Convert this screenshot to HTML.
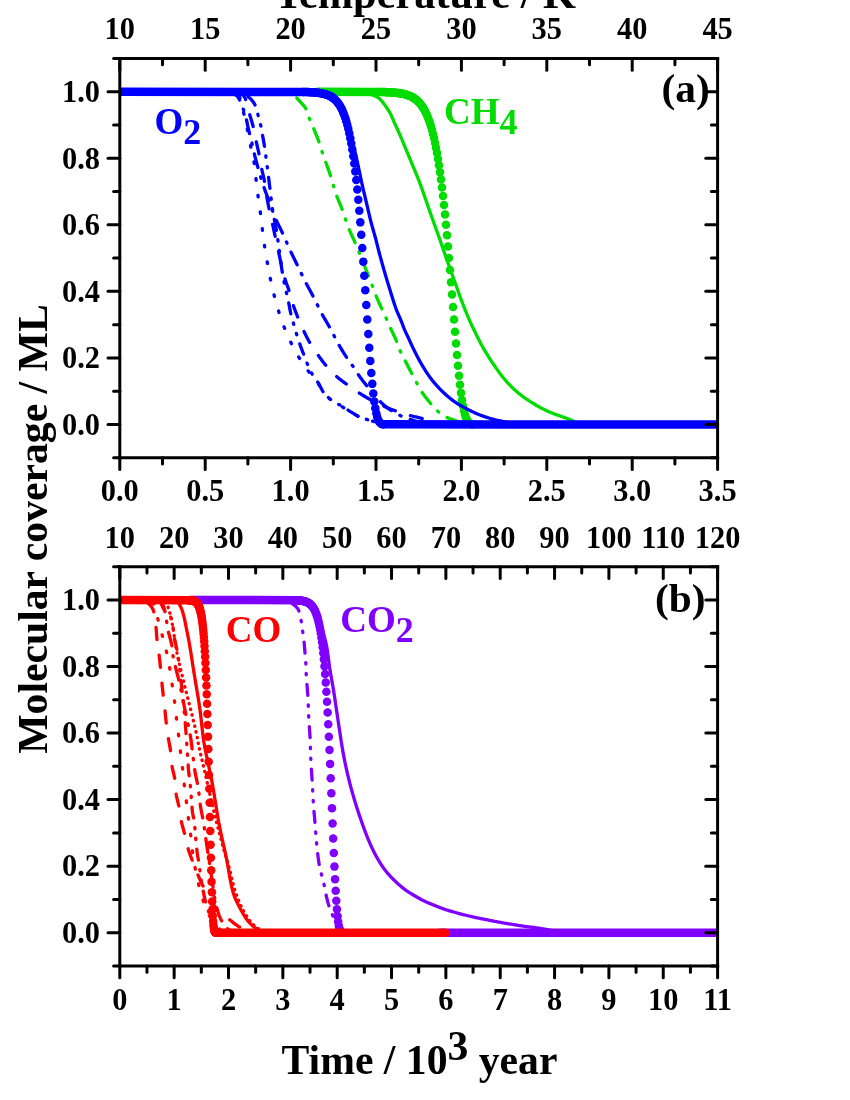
<!DOCTYPE html>
<html><head><meta charset="utf-8"><title>Molecular coverage</title>
<style>
html,body{margin:0;padding:0;background:#fff;}
svg{display:block;font-family:"Liberation Serif",serif;font-weight:bold;}
</style></head><body>
<svg width="850" height="1100" viewBox="0 0 850 1100" style="will-change:transform">
<rect width="850" height="1100" fill="#fff"/>
<defs><clipPath id="ca"><rect x="119.80" y="58.50" width="597.80" height="399.20"/></clipPath><clipPath id="cb"><rect x="119.80" y="566.70" width="597.80" height="399.30"/></clipPath></defs>
<g clip-path="url(#ca)">
<path d="M354.00,91.77 L355.02,91.78 L356.03,91.81 L357.04,91.86 L358.04,91.94 L359.04,92.02 L360.04,92.12 L361.03,92.23 L362.03,92.35 L363.01,92.47 L364.00,92.60 L364.98,92.76 L365.96,92.97 L366.94,93.22 L367.91,93.49 L368.87,93.79 L369.83,94.09 L370.79,94.39 L371.74,94.71 L372.69,95.05 L373.63,95.41 L374.56,95.80 L375.46,96.22 L376.37,96.67 L377.27,97.16 L378.13,97.68 L378.93,98.25 L379.68,98.86 L380.39,99.54 L381.08,100.26 L381.75,101.02 L382.39,101.81 L383.02,102.62 L383.63,103.44 L384.24,104.27 L384.84,105.08 L385.43,105.88 L386.02,106.69 L386.59,107.52 L387.16,108.35 L387.72,109.19 L388.26,110.04 L388.79,110.90 L389.30,111.76 L389.80,112.63 L390.27,113.50 L390.72,114.39 L391.16,115.29 L391.59,116.20 L392.00,117.11 L392.41,118.03 L392.81,118.95 L393.21,119.88 L393.60,120.80 L394.00,121.73 L394.40,122.65 L394.81,123.57 L395.22,124.49 L395.64,125.40 L396.06,126.31 L396.48,127.22 L396.90,128.13 L397.32,129.05 L397.74,129.96 L398.15,130.87 L398.57,131.78 L398.98,132.70 L399.39,133.61 L399.80,134.53 L400.20,135.45 L400.59,136.37 L400.98,137.30 L401.37,138.22 L401.76,139.15 L402.15,140.07 L402.53,141.00 L402.91,141.93 L403.29,142.86 L403.67,143.79 L404.05,144.71 L404.44,145.64 L404.82,146.57 L405.21,147.50 L405.59,148.42 L405.98,149.35 L406.36,150.27 L406.75,151.20 L407.14,152.13 L407.52,153.05 L407.91,153.98 L408.29,154.91 L408.68,155.83 L409.07,156.76 L409.45,157.68 L409.84,158.61 L410.22,159.54 L410.61,160.46 L411.00,161.39 L411.39,162.31 L411.77,163.24 L412.16,164.16 L412.55,165.09 L412.94,166.02 L413.32,166.94 L413.71,167.87 L414.09,168.80 L414.48,169.72 L414.86,170.65 L415.24,171.58 L415.62,172.51 L416.00,173.44 L416.38,174.37 L416.76,175.30 L417.13,176.23 L417.51,177.16 L417.88,178.09 L418.26,179.02 L418.63,179.95 L418.99,180.89 L419.36,181.82 L419.72,182.76 L420.07,183.70 L420.43,184.63 L420.77,185.58 L421.12,186.52 L421.46,187.46 L421.80,188.40 L422.14,189.35 L422.47,190.30 L422.81,191.24 L423.14,192.19 L423.47,193.14 L423.80,194.08 L424.14,195.03 L424.47,195.98 L424.80,196.93 L425.13,197.87 L425.46,198.82 L425.79,199.77 L426.12,200.72 L426.44,201.66 L426.77,202.61 L427.09,203.56 L427.42,204.51 L427.74,205.46 L428.07,206.41 L428.39,207.36 L428.72,208.31 L429.05,209.26 L429.37,210.21 L429.70,211.15 L430.04,212.10 L430.37,213.05 L430.70,213.99 L431.04,214.94 L431.37,215.89 L431.71,216.83 L432.05,217.78 L432.39,218.72 L432.73,219.66 L433.07,220.61 L433.41,221.55 L433.75,222.50 L434.08,223.44 L434.42,224.39 L434.76,225.33 L435.10,226.28 L435.44,227.22 L435.77,228.17 L436.11,229.11 L436.45,230.05 L436.79,231.00 L437.13,231.94 L437.47,232.89 L437.81,233.83 L438.14,234.78 L438.48,235.72 L438.82,236.67 L439.16,237.61 L439.49,238.56 L439.83,239.51 L440.16,240.45 L440.49,241.40 L440.82,242.35 L441.15,243.29 L441.48,244.24 L441.81,245.19 L442.14,246.14 L442.47,247.08 L442.80,248.03 L443.13,248.98 L443.45,249.93 L443.78,250.88 L444.11,251.83 L444.44,252.77 L444.77,253.72 L445.10,254.67 L445.43,255.62 L445.75,256.57 L446.08,257.51 L446.41,258.46 L446.74,259.41 L447.07,260.36 L447.40,261.30 L447.74,262.25 L448.07,263.20 L448.41,264.14 L448.74,265.09 L449.08,266.03 L449.42,266.98 L449.76,267.92 L450.10,268.87 L450.44,269.81 L450.78,270.75 L451.13,271.70 L451.47,272.64 L451.81,273.58 L452.15,274.53 L452.49,275.47 L452.83,276.41 L453.17,277.36 L453.51,278.30 L453.85,279.25 L454.19,280.19 L454.53,281.13 L454.87,282.08 L455.21,283.02 L455.55,283.97 L455.89,284.91 L456.23,285.85 L456.57,286.80 L456.91,287.74 L457.24,288.69 L457.58,289.64 L457.91,290.58 L458.24,291.53 L458.57,292.48 L458.90,293.43 L459.23,294.37 L459.57,295.32 L459.91,296.26 L460.26,297.20 L460.61,298.14 L460.96,299.08 L461.31,300.02 L461.67,300.96 L462.02,301.90 L462.38,302.84 L462.74,303.77 L463.11,304.71 L463.47,305.64 L463.84,306.58 L464.21,307.51 L464.58,308.44 L464.95,309.37 L465.32,310.31 L465.70,311.24 L466.07,312.17 L466.45,313.10 L466.83,314.03 L467.21,314.96 L467.59,315.88 L467.98,316.81 L468.37,317.74 L468.76,318.66 L469.16,319.58 L469.56,320.50 L469.96,321.42 L470.37,322.33 L470.79,323.24 L471.21,324.15 L471.64,325.06 L472.07,325.97 L472.50,326.87 L472.94,327.78 L473.38,328.68 L473.82,329.58 L474.26,330.49 L474.70,331.39 L475.14,332.29 L475.58,333.19 L476.02,334.09 L476.46,334.99 L476.91,335.90 L477.35,336.79 L477.80,337.69 L478.25,338.59 L478.70,339.49 L479.16,340.38 L479.62,341.27 L480.08,342.16 L480.55,343.04 L481.03,343.93 L481.50,344.81 L481.99,345.69 L482.47,346.57 L482.96,347.45 L483.45,348.32 L483.95,349.19 L484.45,350.06 L484.96,350.93 L485.47,351.79 L485.99,352.65 L486.51,353.51 L487.04,354.36 L487.57,355.21 L488.11,356.06 L488.65,356.90 L489.19,357.75 L489.74,358.59 L490.28,359.43 L490.83,360.28 L491.38,361.12 L491.93,361.95 L492.48,362.79 L493.04,363.62 L493.60,364.46 L494.17,365.29 L494.73,366.11 L495.30,366.94 L495.88,367.76 L496.45,368.59 L497.03,369.41 L497.61,370.23 L498.19,371.04 L498.78,371.86 L499.38,372.66 L499.98,373.47 L500.58,374.27 L501.19,375.07 L501.81,375.86 L502.42,376.65 L503.05,377.44 L503.68,378.22 L504.32,378.99 L504.96,379.76 L505.62,380.52 L506.28,381.28 L506.94,382.03 L507.62,382.77 L508.30,383.51 L508.98,384.24 L509.68,384.97 L510.38,385.68 L511.08,386.40 L511.80,387.10 L512.52,387.80 L513.25,388.49 L513.98,389.18 L514.72,389.85 L515.47,390.52 L516.22,391.18 L516.98,391.84 L517.75,392.49 L518.52,393.14 L519.29,393.78 L520.08,394.41 L520.86,395.03 L521.66,395.64 L522.46,396.24 L523.26,396.84 L524.08,397.42 L524.90,398.00 L525.73,398.57 L526.56,399.14 L527.39,399.69 L528.23,400.24 L529.07,400.79 L529.92,401.33 L530.76,401.87 L531.61,402.41 L532.46,402.94 L533.32,403.47 L534.17,404.00 L535.03,404.52 L535.90,405.04 L536.76,405.55 L537.63,406.05 L538.51,406.54 L539.38,407.03 L540.26,407.51 L541.15,407.97 L542.04,408.43 L542.93,408.88 L543.83,409.33 L544.73,409.77 L545.64,410.21 L546.55,410.64 L547.46,411.06 L548.38,411.47 L549.29,411.88 L550.22,412.28 L551.14,412.68 L552.06,413.06 L552.99,413.44 L553.92,413.80 L554.86,414.16 L555.80,414.50 L556.75,414.83 L557.70,415.16 L558.65,415.49 L559.60,415.81 L560.55,416.13 L561.50,416.46 L562.45,416.78 L563.40,417.12 L564.34,417.47 L565.28,417.82 L566.22,418.18 L567.15,418.54 L568.09,418.90 L569.02,419.27 L569.95,419.65 L570.88,420.02 L571.81,420.41 L572.74,420.79 L573.66,421.18 L574.58,421.57 L575.51,421.97 L576.43,422.37 L577.34,422.77 L578.26,423.18 L579.18,423.60 L580.09,424.01 L581.00,424.43" fill="none" stroke="#00dc00" stroke-width="3.3" stroke-linecap="round" stroke-linejoin="round"/>
<path d="M286.00,91.77 L287.00,92.07 L287.98,92.40 L288.94,92.78 L289.87,93.19 L290.78,93.62 L291.67,94.09 L292.53,94.57 L293.36,95.08 L294.16,95.61 L294.94,96.19 L295.69,96.84 L296.42,97.53 L297.12,98.26 L297.82,99.02 L298.50,99.79 L299.17,100.56 L299.84,101.32 L300.51,102.06 L301.20,102.81 L301.89,103.56 L302.58,104.32 L303.26,105.09 L303.91,105.87 L304.53,106.67 L305.10,107.48 L305.62,108.31 L306.08,109.16 L306.48,110.04 L306.85,110.96 L307.18,111.91 L307.49,112.87 L307.79,113.84 L308.09,114.82 L308.40,115.79 L308.72,116.75 L309.07,117.69 L309.44,118.63 L309.82,119.55 L310.21,120.48 L310.60,121.40 L311.00,122.33 L311.40,123.25 L311.80,124.17 L312.20,125.09 L312.59,126.02 L312.98,126.94 L313.36,127.87 L313.74,128.80 L314.13,129.73 L314.52,130.65 L314.91,131.58 L315.29,132.51 L315.68,133.44 L316.06,134.36 L316.44,135.29 L316.82,136.23 L317.19,137.16 L317.56,138.09 L317.92,139.03 L318.27,139.97 L318.61,140.91 L318.95,141.85 L319.27,142.80 L319.59,143.75 L319.89,144.71 L320.18,145.67 L320.47,146.63 L320.76,147.60 L321.05,148.56 L321.34,149.52 L321.64,150.48 L321.95,151.43 L322.26,152.39 L322.58,153.34 L322.90,154.29 L323.23,155.24 L323.56,156.18 L323.90,157.13 L324.24,158.08 L324.58,159.02 L324.92,159.97 L325.26,160.91 L325.61,161.85 L325.95,162.80 L326.30,163.74 L326.64,164.68 L326.98,165.63 L327.33,166.57 L327.67,167.51 L328.01,168.46 L328.35,169.40 L328.68,170.35 L329.02,171.30 L329.34,172.25 L329.67,173.20 L329.99,174.15 L330.31,175.10 L330.62,176.05 L330.92,177.01 L331.22,177.97 L331.51,178.93 L331.79,179.89 L332.07,180.86 L332.35,181.82 L332.63,182.79 L332.90,183.76 L333.17,184.72 L333.45,185.69 L333.72,186.66 L334.00,187.62 L334.29,188.59 L334.57,189.55 L334.86,190.51 L335.16,191.46 L335.47,192.42 L335.79,193.37 L336.11,194.32 L336.45,195.26 L336.80,196.20 L337.16,197.13 L337.53,198.07 L337.90,199.00 L338.29,199.93 L338.67,200.85 L339.06,201.78 L339.45,202.71 L339.84,203.63 L340.23,204.56 L340.62,205.49 L341.00,206.42 L341.37,207.35 L341.73,208.29 L342.08,209.23 L342.43,210.17 L342.77,211.11 L343.10,212.06 L343.43,213.01 L343.75,213.96 L344.07,214.91 L344.39,215.87 L344.70,216.82 L345.02,217.78 L345.33,218.73 L345.65,219.69 L345.97,220.64 L346.29,221.59 L346.61,222.54 L346.94,223.49 L347.27,224.44 L347.61,225.38 L347.96,226.32 L348.31,227.26 L348.68,228.19 L349.05,229.12 L349.43,230.05 L349.82,230.97 L350.22,231.89 L350.63,232.81 L351.04,233.72 L351.46,234.64 L351.87,235.55 L352.29,236.47 L352.71,237.38 L353.13,238.29 L353.55,239.21 L353.96,240.12 L354.37,241.04 L354.77,241.96 L355.16,242.88 L355.56,243.81 L355.95,244.73 L356.33,245.66 L356.72,246.58 L357.11,247.51 L357.49,248.44 L357.88,249.37 L358.26,250.29 L358.64,251.22 L359.02,252.15 L359.40,253.08 L359.78,254.01 L360.16,254.94 L360.53,255.87 L360.91,256.80 L361.29,257.73 L361.66,258.67 L362.04,259.60 L362.41,260.53 L362.78,261.46 L363.16,262.39 L363.53,263.32 L363.90,264.26 L364.27,265.19 L364.64,266.12 L365.01,267.06 L365.38,267.99 L365.75,268.92 L366.11,269.86 L366.48,270.79 L366.85,271.73 L367.21,272.66 L367.58,273.60 L367.94,274.53 L368.30,275.47 L368.67,276.41 L369.03,277.34 L369.39,278.28 L369.76,279.21 L370.12,280.15 L370.48,281.09 L370.85,282.02 L371.21,282.96 L371.57,283.89 L371.93,284.83 L372.30,285.77 L372.65,286.70 L373.01,287.64 L373.36,288.58 L373.72,289.52 L374.07,290.46 L374.42,291.40 L374.78,292.34 L375.13,293.28 L375.49,294.22 L375.86,295.15 L376.22,296.09 L376.60,297.02 L376.98,297.95 L377.36,298.87 L377.76,299.80 L378.15,300.72 L378.56,301.64 L378.96,302.55 L379.37,303.47 L379.79,304.38 L380.21,305.30 L380.63,306.21 L381.05,307.12 L381.47,308.03 L381.89,308.94 L382.32,309.85 L382.74,310.76 L383.17,311.67 L383.59,312.58 L384.01,313.50 L384.43,314.41 L384.85,315.32 L385.26,316.24 L385.67,317.15 L386.08,318.07 L386.48,318.99 L386.88,319.91 L387.28,320.83 L387.69,321.75 L388.09,322.67 L388.49,323.59 L388.89,324.51 L389.30,325.43 L389.71,326.34 L390.12,327.26 L390.53,328.17 L390.96,329.08 L391.39,329.99 L391.82,330.90 L392.25,331.81 L392.68,332.71 L393.12,333.62 L393.55,334.53 L393.97,335.44 L394.39,336.35 L394.81,337.26 L395.22,338.18 L395.62,339.10 L396.01,340.02 L396.38,340.95 L396.75,341.89 L397.10,342.83 L397.44,343.77 L397.78,344.72 L398.12,345.67 L398.46,346.61 L398.82,347.55 L399.18,348.49 L399.55,349.42 L399.95,350.34 L400.36,351.25 L400.78,352.16 L401.22,353.06 L401.66,353.96 L402.11,354.86 L402.57,355.75 L403.03,356.65 L403.50,357.54 L403.96,358.43 L404.41,359.33 L404.87,360.22 L405.32,361.12 L405.78,362.01 L406.24,362.90 L406.70,363.80 L407.16,364.69 L407.62,365.58 L408.08,366.47 L408.55,367.36 L409.01,368.25 L409.48,369.14 L409.94,370.03 L410.41,370.92 L410.87,371.81 L411.34,372.70 L411.81,373.59 L412.28,374.47 L412.74,375.36 L413.21,376.25 L413.68,377.14 L414.15,378.02 L414.63,378.91 L415.10,379.80 L415.57,380.68 L416.04,381.57 L416.50,382.46 L416.96,383.36 L417.41,384.26 L417.86,385.16 L418.32,386.06 L418.78,386.95 L419.25,387.83 L419.74,388.71 L420.24,389.57 L420.76,390.42 L421.30,391.26 L421.85,392.09 L422.42,392.92 L423.00,393.74 L423.59,394.56 L424.19,395.36 L424.79,396.17 L425.41,396.97 L426.03,397.76 L426.65,398.55 L427.28,399.34 L427.90,400.13 L428.53,400.91 L429.16,401.70 L429.79,402.48 L430.42,403.27 L431.05,404.05 L431.70,404.82 L432.35,405.59 L433.00,406.35 L433.67,407.10 L434.35,407.83 L435.05,408.55 L435.75,409.26 L436.46,409.99 L437.18,410.71 L437.92,411.43 L438.66,412.13 L439.41,412.82 L440.18,413.48 L440.96,414.10 L441.76,414.69 L442.57,415.24 L443.40,415.73 L444.26,416.20 L445.13,416.65 L446.03,417.08 L446.95,417.49 L447.88,417.88 L448.82,418.26 L449.77,418.63 L450.73,418.98 L451.69,419.33 L452.65,419.67 L453.60,420.01 L454.56,420.34 L455.50,420.68 L456.45,421.00 L457.39,421.32 L458.35,421.64 L459.30,421.95 L460.26,422.25 L461.21,422.55 L462.18,422.84 L463.14,423.12 L464.11,423.40 L465.08,423.67 L466.05,423.93 L467.02,424.19 L468.00,424.43" fill="none" stroke="#00dc00" stroke-width="3.3" stroke-linecap="round" stroke-linejoin="round" stroke-dasharray="14.1,10.1,1.4,10.1" stroke-dashoffset="23.1"/>
<line x1="318.00" y1="91.77" x2="378.08" y2="91.93" stroke="#00dc00" stroke-width="8.50" stroke-linecap="round"/>
<g fill="#00dc00"><circle cx="379.00" cy="91.95" r="4.25"/><circle cx="380.00" cy="91.97" r="4.25"/><circle cx="381.00" cy="91.99" r="4.25"/><circle cx="382.00" cy="92.01" r="4.25"/><circle cx="383.00" cy="92.04" r="4.25"/><circle cx="384.00" cy="92.07" r="4.25"/><circle cx="385.00" cy="92.10" r="4.25"/><circle cx="386.00" cy="92.14" r="4.25"/><circle cx="387.00" cy="92.18" r="4.25"/><circle cx="388.00" cy="92.22" r="4.25"/><circle cx="389.00" cy="92.27" r="4.25"/><circle cx="390.00" cy="92.33" r="4.25"/><circle cx="391.00" cy="92.39" r="4.25"/><circle cx="392.00" cy="92.45" r="4.25"/><circle cx="393.00" cy="92.53" r="4.25"/><circle cx="394.00" cy="92.61" r="4.25"/><circle cx="395.00" cy="92.70" r="4.25"/><circle cx="396.00" cy="92.80" r="4.25"/><circle cx="397.00" cy="92.91" r="4.25"/><circle cx="398.00" cy="93.03" r="4.25"/><circle cx="399.00" cy="93.17" r="4.25"/><circle cx="400.00" cy="93.32" r="4.25"/><circle cx="401.00" cy="93.48" r="4.25"/><circle cx="402.00" cy="93.67" r="4.25"/><circle cx="403.00" cy="93.87" r="4.25"/><circle cx="404.00" cy="94.10" r="4.25"/><circle cx="405.00" cy="94.35" r="4.25"/><circle cx="406.00" cy="94.62" r="4.25"/><circle cx="407.00" cy="94.93" r="4.25"/><circle cx="408.00" cy="95.27" r="4.25"/><circle cx="409.00" cy="95.64" r="4.25"/><circle cx="410.00" cy="96.05" r="4.25"/><circle cx="411.00" cy="96.51" r="4.25"/><circle cx="412.00" cy="97.02" r="4.25"/><circle cx="413.00" cy="97.57" r="4.25"/><circle cx="414.00" cy="98.19" r="4.25"/><circle cx="415.00" cy="98.87" r="4.25"/><circle cx="416.00" cy="99.63" r="4.25"/><circle cx="417.00" cy="100.46" r="4.25"/><circle cx="418.00" cy="101.38" r="4.25"/><circle cx="419.00" cy="102.40" r="4.25"/><circle cx="420.00" cy="103.52" r="4.25"/><circle cx="421.00" cy="104.76" r="4.25"/><circle cx="422.00" cy="106.12" r="4.25"/><circle cx="423.00" cy="107.62" r="4.25"/><circle cx="424.00" cy="109.28" r="4.25"/><circle cx="425.00" cy="111.11" r="4.25"/><circle cx="426.00" cy="113.11" r="4.25"/><circle cx="427.00" cy="115.32" r="4.25"/><circle cx="428.00" cy="117.75" r="4.25"/><circle cx="429.00" cy="120.42" r="4.25"/><circle cx="430.00" cy="123.35" r="4.25"/><circle cx="431.00" cy="126.55" r="4.25"/><circle cx="432.00" cy="130.07" r="4.25"/><circle cx="433.00" cy="133.91" r="4.25"/><circle cx="434.00" cy="138.10" r="4.25"/><circle cx="435.00" cy="142.68" r="4.25"/><circle cx="436.00" cy="147.66" r="4.25"/><circle cx="437.00" cy="153.07" r="4.25"/><circle cx="438.00" cy="158.94" r="4.25"/><circle cx="439.00" cy="165.29" r="4.25"/><circle cx="440.00" cy="172.15" r="4.25"/><circle cx="441.00" cy="179.53" r="4.25"/><circle cx="442.00" cy="187.46" r="4.25"/><circle cx="443.00" cy="195.93" r="4.25"/><circle cx="444.00" cy="204.97" r="4.25"/><circle cx="445.00" cy="214.55" r="4.25"/><circle cx="446.00" cy="224.68" r="4.25"/><circle cx="447.00" cy="235.33" r="4.25"/><circle cx="448.00" cy="246.46" r="4.25"/><circle cx="449.00" cy="258.02" r="4.25"/><circle cx="450.00" cy="269.95" r="4.25"/><circle cx="451.00" cy="282.16" r="4.25"/><circle cx="452.00" cy="294.57" r="4.25"/><circle cx="453.00" cy="307.04" r="4.25"/><circle cx="454.00" cy="319.47" r="4.25"/><circle cx="455.00" cy="331.70" r="4.25"/><circle cx="456.00" cy="343.58" r="4.25"/><circle cx="457.00" cy="354.98" r="4.25"/><circle cx="458.00" cy="365.73" r="4.25"/><circle cx="459.00" cy="375.71" r="4.25"/><circle cx="460.00" cy="384.79" r="4.25"/><circle cx="461.00" cy="392.88" r="4.25"/><circle cx="462.00" cy="399.94" r="4.25"/><circle cx="463.00" cy="405.92" r="4.25"/><circle cx="464.00" cy="410.86" r="4.25"/><circle cx="465.00" cy="414.80" r="4.25"/><circle cx="466.00" cy="417.85" r="4.25"/><circle cx="467.00" cy="420.11" r="4.25"/><circle cx="468.00" cy="421.72" r="4.25"/><circle cx="469.00" cy="422.82" r="4.25"/><circle cx="470.00" cy="423.52" r="4.25"/><circle cx="471.00" cy="423.95" r="4.25"/><circle cx="472.00" cy="424.19" r="4.25"/><circle cx="473.00" cy="424.32" r="4.25"/></g>
<path d="M322.00,91.77 L323.11,91.80 L324.20,91.88 L325.26,92.02 L326.30,92.21 L327.31,92.43 L328.28,92.69 L329.22,92.97 L330.13,93.28 L331.00,93.60 L331.82,93.93 L332.62,94.30 L333.40,94.78 L334.17,95.36 L334.92,96.03 L335.65,96.77 L336.36,97.57 L337.04,98.41 L337.68,99.29 L338.30,100.18 L338.87,101.07 L339.41,101.95 L339.89,102.81 L340.34,103.65 L340.77,104.51 L341.17,105.39 L341.56,106.29 L341.93,107.21 L342.28,108.14 L342.62,109.09 L342.94,110.04 L343.26,111.01 L343.56,111.98 L343.87,112.96 L344.16,113.95 L344.45,114.93 L344.75,115.91 L345.04,116.90 L345.33,117.87 L345.63,118.84 L345.94,119.80 L346.24,120.75 L346.55,121.71 L346.86,122.66 L347.16,123.62 L347.47,124.57 L347.77,125.53 L348.07,126.49 L348.36,127.45 L348.66,128.40 L348.95,129.36 L349.24,130.32 L349.53,131.29 L349.81,132.25 L350.10,133.21 L350.38,134.17 L350.65,135.14 L350.93,136.10 L351.20,137.07 L351.47,138.03 L351.73,139.00 L351.99,139.97 L352.25,140.93 L352.50,141.90 L352.76,142.87 L353.01,143.84 L353.25,144.81 L353.50,145.78 L353.74,146.76 L353.98,147.73 L354.22,148.70 L354.46,149.68 L354.70,150.65 L354.93,151.63 L355.16,152.61 L355.39,153.58 L355.62,154.56 L355.85,155.54 L356.08,156.51 L356.30,157.49 L356.53,158.47 L356.75,159.45 L356.97,160.42 L357.19,161.40 L357.41,162.38 L357.63,163.36 L357.85,164.34 L358.07,165.32 L358.29,166.29 L358.50,167.27 L358.71,168.25 L358.92,169.23 L359.12,170.22 L359.32,171.20 L359.53,172.18 L359.73,173.16 L359.93,174.15 L360.13,175.13 L360.33,176.11 L360.53,177.09 L360.73,178.07 L360.94,179.06 L361.14,180.04 L361.35,181.02 L361.56,182.00 L361.77,182.98 L361.99,183.96 L362.21,184.94 L362.43,185.91 L362.66,186.89 L362.88,187.87 L363.11,188.84 L363.34,189.82 L363.57,190.80 L363.80,191.77 L364.04,192.75 L364.27,193.72 L364.50,194.70 L364.74,195.67 L364.98,196.65 L365.21,197.62 L365.45,198.59 L365.68,199.57 L365.91,200.54 L366.15,201.52 L366.38,202.50 L366.61,203.47 L366.84,204.45 L367.07,205.42 L367.30,206.40 L367.52,207.38 L367.75,208.35 L367.97,209.33 L368.20,210.31 L368.42,211.29 L368.65,212.26 L368.88,213.24 L369.10,214.22 L369.33,215.19 L369.57,216.17 L369.80,217.14 L370.03,218.12 L370.27,219.09 L370.51,220.06 L370.76,221.04 L371.00,222.01 L371.25,222.98 L371.51,223.95 L371.77,224.91 L372.04,225.88 L372.30,226.85 L372.58,227.81 L372.85,228.78 L373.13,229.74 L373.40,230.71 L373.68,231.67 L373.96,232.63 L374.23,233.60 L374.51,234.56 L374.78,235.53 L375.05,236.49 L375.32,237.46 L375.58,238.43 L375.84,239.39 L376.09,240.36 L376.34,241.34 L376.59,242.31 L376.83,243.28 L377.07,244.25 L377.31,245.23 L377.55,246.20 L377.79,247.18 L378.03,248.15 L378.27,249.12 L378.52,250.09 L378.78,251.06 L379.03,252.03 L379.29,253.00 L379.55,253.97 L379.81,254.94 L380.07,255.91 L380.33,256.87 L380.59,257.84 L380.86,258.81 L381.12,259.78 L381.39,260.74 L381.66,261.71 L381.93,262.68 L382.20,263.64 L382.47,264.61 L382.74,265.57 L383.01,266.54 L383.29,267.50 L383.56,268.46 L383.84,269.43 L384.11,270.39 L384.39,271.36 L384.67,272.32 L384.95,273.28 L385.23,274.24 L385.51,275.21 L385.80,276.17 L386.08,277.13 L386.37,278.09 L386.65,279.05 L386.94,280.01 L387.23,280.97 L387.52,281.93 L387.81,282.89 L388.10,283.85 L388.40,284.81 L388.69,285.77 L388.98,286.73 L389.28,287.68 L389.58,288.64 L389.88,289.60 L390.17,290.56 L390.47,291.51 L390.77,292.47 L391.06,293.43 L391.36,294.39 L391.65,295.35 L391.95,296.31 L392.24,297.27 L392.54,298.23 L392.84,299.19 L393.14,300.15 L393.44,301.10 L393.75,302.06 L394.06,303.01 L394.37,303.96 L394.69,304.91 L395.02,305.86 L395.34,306.81 L395.68,307.75 L396.02,308.69 L396.36,309.63 L396.72,310.57 L397.09,311.50 L397.47,312.42 L397.86,313.34 L398.27,314.26 L398.67,315.18 L399.09,316.09 L399.50,317.01 L399.90,317.93 L400.30,318.85 L400.70,319.77 L401.08,320.70 L401.45,321.63 L401.81,322.56 L402.17,323.50 L402.52,324.44 L402.88,325.38 L403.23,326.32 L403.59,327.26 L403.95,328.19 L404.33,329.12 L404.72,330.04 L405.12,330.96 L405.54,331.87 L405.96,332.78 L406.40,333.68 L406.83,334.59 L407.26,335.49 L407.69,336.40 L408.11,337.31 L408.52,338.22 L408.94,339.14 L409.36,340.05 L409.77,340.96 L410.19,341.88 L410.60,342.79 L411.02,343.70 L411.44,344.61 L411.86,345.52 L412.28,346.43 L412.71,347.34 L413.14,348.24 L413.58,349.14 L414.02,350.04 L414.47,350.94 L414.92,351.84 L415.37,352.73 L415.82,353.63 L416.27,354.52 L416.73,355.42 L417.20,356.31 L417.66,357.20 L418.13,358.09 L418.60,358.97 L419.08,359.85 L419.56,360.73 L420.05,361.61 L420.54,362.48 L421.04,363.35 L421.54,364.22 L422.05,365.08 L422.56,365.94 L423.08,366.80 L423.60,367.65 L424.12,368.51 L424.65,369.37 L425.19,370.22 L425.73,371.07 L426.28,371.91 L426.83,372.76 L427.38,373.60 L427.95,374.43 L428.52,375.26 L429.09,376.08 L429.67,376.90 L430.26,377.70 L430.86,378.51 L431.46,379.30 L432.07,380.09 L432.69,380.87 L433.31,381.64 L433.95,382.41 L434.60,383.18 L435.25,383.94 L435.91,384.70 L436.58,385.45 L437.26,386.20 L437.95,386.94 L438.64,387.67 L439.33,388.40 L440.03,389.12 L440.74,389.84 L441.45,390.55 L442.17,391.25 L442.89,391.95 L443.61,392.64 L444.34,393.32 L445.07,393.99 L445.81,394.67 L446.56,395.34 L447.32,396.00 L448.08,396.66 L448.85,397.31 L449.63,397.95 L450.41,398.58 L451.20,399.21 L452.00,399.82 L452.80,400.43 L453.61,401.02 L454.42,401.60 L455.24,402.16 L456.06,402.72 L456.90,403.26 L457.75,403.80 L458.60,404.33 L459.46,404.85 L460.33,405.36 L461.20,405.86 L462.07,406.36 L462.95,406.85 L463.84,407.33 L464.72,407.80 L465.61,408.27 L466.50,408.74 L467.39,409.20 L468.28,409.66 L469.17,410.11 L470.07,410.56 L470.97,411.01 L471.87,411.45 L472.78,411.88 L473.69,412.31 L474.60,412.73 L475.52,413.14 L476.44,413.55 L477.36,413.94 L478.28,414.32 L479.21,414.70 L480.14,415.05 L481.08,415.41 L482.02,415.75 L482.96,416.09 L483.91,416.42 L484.86,416.75 L485.81,417.07 L486.76,417.39 L487.72,417.69 L488.68,417.99 L489.64,418.28 L490.61,418.57 L491.57,418.84 L492.54,419.11 L493.50,419.37 L494.47,419.62 L495.44,419.86 L496.42,420.08 L497.40,420.30 L498.38,420.51 L499.36,420.72 L500.34,420.92 L501.33,421.13 L502.31,421.34 L503.29,421.55 L504.27,421.77 L505.24,421.99 L506.22,422.21 L507.20,422.43 L508.18,422.65 L509.16,422.87 L510.14,423.09 L511.11,423.32 L512.09,423.54 L513.07,423.76 L514.05,423.99 L515.02,424.21 L516.00,424.43" fill="none" stroke="#0000ff" stroke-width="3.3" stroke-linecap="round" stroke-linejoin="round"/>
<path d="M234.00,91.77 L234.86,92.41 L235.71,93.07 L236.52,93.75 L237.30,94.45 L238.02,95.18 L238.68,95.93 L239.26,96.70 L239.75,97.49 L240.14,98.31 L240.48,99.17 L240.80,100.06 L241.08,100.98 L241.35,101.93 L241.59,102.91 L241.82,103.90 L242.03,104.91 L242.24,105.92 L242.44,106.95 L242.63,107.97 L242.83,109.00 L243.03,110.01 L243.24,111.02 L243.46,112.01 L243.68,112.99 L243.91,113.96 L244.13,114.94 L244.35,115.92 L244.58,116.90 L244.80,117.88 L245.01,118.86 L245.23,119.84 L245.45,120.82 L245.66,121.80 L245.87,122.78 L246.09,123.76 L246.30,124.74 L246.51,125.72 L246.72,126.70 L246.92,127.68 L247.13,128.67 L247.34,129.65 L247.54,130.63 L247.74,131.61 L247.94,132.60 L248.13,133.58 L248.33,134.57 L248.52,135.55 L248.72,136.53 L248.91,137.52 L249.10,138.50 L249.30,139.49 L249.49,140.47 L249.69,141.46 L249.88,142.44 L250.08,143.43 L250.28,144.41 L250.48,145.39 L250.68,146.38 L250.90,147.36 L251.11,148.34 L251.34,149.32 L251.56,150.30 L251.79,151.28 L252.02,152.25 L252.24,153.23 L252.47,154.21 L252.69,155.19 L252.90,156.17 L253.11,157.16 L253.31,158.14 L253.51,159.12 L253.69,160.11 L253.86,161.09 L254.01,162.08 L254.16,163.07 L254.30,164.06 L254.43,165.06 L254.55,166.05 L254.68,167.05 L254.79,168.04 L254.91,169.04 L255.02,170.04 L255.13,171.04 L255.23,172.04 L255.34,173.03 L255.45,174.03 L255.55,175.03 L255.66,176.03 L255.77,177.03 L255.89,178.03 L256.00,179.02 L256.12,180.02 L256.24,181.02 L256.36,182.01 L256.48,183.01 L256.59,184.01 L256.71,185.00 L256.83,186.00 L256.95,187.00 L257.07,187.99 L257.19,188.99 L257.31,189.98 L257.43,190.98 L257.56,191.98 L257.68,192.97 L257.80,193.97 L257.93,194.96 L258.06,195.96 L258.19,196.95 L258.32,197.95 L258.46,198.94 L258.60,199.94 L258.74,200.93 L258.88,201.92 L259.02,202.92 L259.16,203.91 L259.30,204.90 L259.44,205.90 L259.58,206.89 L259.72,207.88 L259.86,208.88 L259.99,209.87 L260.13,210.87 L260.26,211.86 L260.38,212.86 L260.51,213.85 L260.63,214.85 L260.75,215.85 L260.87,216.84 L260.99,217.84 L261.10,218.84 L261.22,219.83 L261.33,220.83 L261.45,221.83 L261.56,222.82 L261.68,223.82 L261.79,224.82 L261.91,225.81 L262.03,226.81 L262.15,227.81 L262.28,228.80 L262.40,229.80 L262.52,230.79 L262.65,231.79 L262.77,232.78 L262.90,233.78 L263.02,234.78 L263.15,235.77 L263.28,236.77 L263.41,237.76 L263.54,238.76 L263.67,239.75 L263.80,240.75 L263.94,241.74 L264.08,242.74 L264.22,243.73 L264.36,244.72 L264.50,245.71 L264.65,246.71 L264.80,247.70 L264.95,248.69 L265.11,249.68 L265.27,250.67 L265.43,251.66 L265.59,252.65 L265.76,253.64 L265.93,254.63 L266.10,255.62 L266.27,256.61 L266.44,257.60 L266.61,258.59 L266.78,259.58 L266.96,260.56 L267.13,261.55 L267.31,262.54 L267.48,263.53 L267.66,264.52 L267.83,265.50 L268.01,266.49 L268.19,267.48 L268.37,268.47 L268.55,269.46 L268.73,270.44 L268.91,271.43 L269.10,272.42 L269.29,273.40 L269.48,274.39 L269.67,275.37 L269.86,276.36 L270.06,277.34 L270.26,278.32 L270.46,279.31 L270.66,280.29 L270.87,281.27 L271.08,282.25 L271.30,283.23 L271.51,284.21 L271.73,285.19 L271.95,286.17 L272.18,287.15 L272.40,288.13 L272.63,289.10 L272.86,290.08 L273.10,291.06 L273.34,292.03 L273.58,293.01 L273.82,293.98 L274.06,294.95 L274.31,295.92 L274.56,296.90 L274.81,297.87 L275.06,298.84 L275.32,299.81 L275.58,300.78 L275.85,301.75 L276.12,302.71 L276.39,303.68 L276.66,304.65 L276.94,305.61 L277.22,306.58 L277.50,307.54 L277.78,308.50 L278.07,309.46 L278.37,310.42 L278.66,311.38 L278.96,312.34 L279.26,313.29 L279.57,314.25 L279.88,315.20 L280.20,316.16 L280.51,317.11 L280.84,318.06 L281.16,319.01 L281.49,319.96 L281.82,320.91 L282.16,321.85 L282.50,322.80 L282.85,323.74 L283.20,324.68 L283.55,325.62 L283.91,326.55 L284.27,327.49 L284.64,328.42 L285.01,329.35 L285.39,330.28 L285.78,331.20 L286.17,332.13 L286.56,333.05 L286.96,333.98 L287.37,334.90 L287.78,335.81 L288.19,336.73 L288.61,337.64 L289.03,338.56 L289.45,339.47 L289.88,340.37 L290.31,341.28 L290.75,342.18 L291.19,343.08 L291.63,343.98 L292.08,344.88 L292.53,345.78 L292.98,346.67 L293.44,347.56 L293.91,348.46 L294.38,349.34 L294.85,350.23 L295.33,351.11 L295.82,352.00 L296.31,352.87 L296.80,353.75 L297.30,354.62 L297.80,355.49 L298.31,356.35 L298.82,357.21 L299.34,358.06 L299.87,358.91 L300.41,359.76 L300.95,360.60 L301.50,361.44 L302.05,362.28 L302.61,363.11 L303.18,363.94 L303.75,364.77 L304.33,365.60 L304.91,366.42 L305.49,367.24 L306.08,368.05 L306.67,368.86 L307.26,369.67 L307.85,370.48 L308.46,371.28 L309.07,372.07 L309.69,372.86 L310.32,373.64 L310.95,374.43 L311.58,375.21 L312.20,376.00 L312.83,376.78 L313.45,377.57 L314.08,378.35 L314.71,379.13 L315.35,379.91 L315.98,380.69 L316.60,381.48 L317.22,382.27 L317.83,383.07 L318.41,383.88 L318.98,384.70 L319.52,385.55 L320.05,386.42 L320.56,387.29 L321.06,388.17 L321.57,389.05 L322.08,389.93 L322.60,390.79 L323.14,391.63 L323.70,392.45 L324.29,393.24 L324.91,393.99 L325.56,394.74 L326.24,395.48 L326.95,396.20 L327.67,396.91 L328.41,397.61 L329.17,398.29 L329.93,398.95 L330.71,399.60 L331.50,400.23 L332.28,400.84 L333.08,401.42 L333.89,401.99 L334.73,402.53 L335.58,403.06 L336.44,403.57 L337.31,404.07 L338.19,404.57 L339.07,405.06 L339.96,405.55 L340.84,406.05 L341.72,406.55 L342.59,407.05 L343.45,407.57 L344.30,408.10 L345.15,408.63 L346.00,409.17 L346.84,409.72 L347.69,410.26 L348.54,410.80 L349.39,411.33 L350.24,411.85 L351.10,412.36 L351.97,412.87 L352.84,413.39 L353.70,413.91 L354.57,414.42 L355.45,414.93 L356.33,415.42 L357.21,415.89 L358.11,416.35 L359.01,416.77 L359.92,417.17 L360.84,417.53 L361.77,417.88 L362.71,418.22 L363.66,418.55 L364.61,418.86 L365.57,419.16 L366.54,419.45 L367.51,419.74 L368.48,420.02 L369.45,420.29 L370.42,420.56 L371.39,420.83 L372.35,421.10 L373.32,421.36 L374.29,421.62 L375.26,421.88 L376.23,422.14 L377.20,422.39 L378.17,422.63 L379.14,422.87 L380.12,423.11 L381.10,423.34 L382.07,423.57 L383.05,423.79 L384.03,424.01 L385.02,424.23 L386.00,424.43" fill="none" stroke="#0000ff" stroke-width="3.3" stroke-linecap="round" stroke-linejoin="round" stroke-dasharray="1.6,15.2" stroke-dashoffset="9.7"/>
<path d="M229.00,91.77 L230.07,92.07 L231.10,92.43 L232.11,92.83 L233.07,93.27 L233.98,93.75 L234.83,94.27 L235.62,94.81 L236.34,95.39 L236.98,95.98 L237.57,96.64 L238.11,97.37 L238.62,98.18 L239.10,99.05 L239.55,99.96 L239.98,100.92 L240.39,101.90 L240.79,102.89 L241.18,103.89 L241.56,104.87 L241.93,105.83 L242.31,106.77 L242.68,107.70 L243.04,108.63 L243.40,109.57 L243.74,110.51 L244.08,111.46 L244.40,112.42 L244.71,113.37 L245.01,114.33 L245.30,115.29 L245.57,116.25 L245.83,117.22 L246.07,118.18 L246.31,119.16 L246.54,120.13 L246.76,121.11 L246.97,122.09 L247.18,123.07 L247.38,124.06 L247.59,125.04 L247.79,126.03 L248.00,127.01 L248.20,127.99 L248.42,128.97 L248.64,129.95 L248.86,130.93 L249.10,131.90 L249.34,132.88 L249.60,133.85 L249.86,134.82 L250.11,135.79 L250.37,136.75 L250.63,137.72 L250.88,138.70 L251.12,139.67 L251.35,140.64 L251.57,141.62 L251.79,142.60 L252.00,143.58 L252.21,144.56 L252.41,145.54 L252.62,146.53 L252.83,147.51 L253.04,148.49 L253.26,149.47 L253.49,150.44 L253.72,151.42 L253.95,152.39 L254.19,153.37 L254.43,154.34 L254.67,155.31 L254.92,156.29 L255.17,157.26 L255.42,158.23 L255.67,159.20 L255.92,160.17 L256.18,161.14 L256.44,162.11 L256.70,163.08 L256.96,164.04 L257.23,165.01 L257.49,165.98 L257.76,166.94 L258.03,167.91 L258.30,168.88 L258.57,169.84 L258.84,170.81 L259.12,171.77 L259.40,172.74 L259.68,173.70 L259.96,174.66 L260.24,175.63 L260.53,176.59 L260.82,177.55 L261.11,178.51 L261.40,179.47 L261.70,180.43 L262.00,181.38 L262.30,182.34 L262.61,183.29 L262.92,184.24 L263.23,185.20 L263.55,186.14 L263.88,187.09 L264.21,188.04 L264.54,188.98 L264.88,189.93 L265.22,190.87 L265.57,191.81 L265.92,192.75 L266.27,193.69 L266.62,194.63 L266.97,195.57 L267.33,196.51 L267.68,197.45 L268.03,198.39 L268.38,199.33 L268.73,200.27 L269.08,201.21 L269.42,202.15 L269.76,203.10 L270.10,204.04 L270.44,204.99 L270.77,205.93 L271.11,206.88 L271.44,207.83 L271.78,208.77 L272.12,209.72 L272.46,210.66 L272.81,211.60 L273.15,212.55 L273.51,213.48 L273.86,214.42 L274.22,215.35 L274.59,216.29 L274.97,217.21 L275.35,218.14 L275.74,219.06 L276.14,219.97 L276.56,220.88 L276.98,221.79 L277.41,222.70 L277.85,223.60 L278.30,224.50 L278.75,225.39 L279.20,226.29 L279.65,227.19 L280.10,228.09 L280.55,228.99 L280.99,229.89 L281.43,230.79 L281.86,231.70 L282.28,232.61 L282.70,233.52 L283.11,234.43 L283.53,235.34 L283.94,236.26 L284.34,237.17 L284.75,238.09 L285.16,239.01 L285.56,239.93 L285.96,240.85 L286.37,241.76 L286.77,242.68 L287.17,243.60 L287.58,244.52 L287.98,245.44 L288.39,246.35 L288.80,247.27 L289.21,248.18 L289.62,249.10 L290.04,250.01 L290.46,250.92 L290.89,251.83 L291.31,252.73 L291.74,253.64 L292.17,254.54 L292.61,255.45 L293.04,256.35 L293.48,257.26 L293.92,258.16 L294.35,259.06 L294.79,259.96 L295.23,260.86 L295.67,261.76 L296.11,262.67 L296.55,263.57 L296.99,264.47 L297.42,265.37 L297.86,266.28 L298.29,267.18 L298.72,268.09 L299.16,268.99 L299.59,269.90 L300.02,270.80 L300.45,271.71 L300.89,272.61 L301.32,273.52 L301.76,274.42 L302.19,275.32 L302.63,276.23 L303.07,277.13 L303.51,278.03 L303.95,278.93 L304.40,279.83 L304.85,280.72 L305.30,281.62 L305.75,282.51 L306.21,283.40 L306.67,284.29 L307.14,285.18 L307.61,286.06 L308.09,286.94 L308.57,287.82 L309.05,288.70 L309.53,289.58 L310.02,290.46 L310.50,291.34 L310.98,292.22 L311.46,293.10 L311.94,293.99 L312.41,294.87 L312.87,295.76 L313.34,296.65 L313.79,297.54 L314.24,298.44 L314.69,299.33 L315.14,300.23 L315.58,301.13 L316.02,302.03 L316.46,302.94 L316.90,303.84 L317.34,304.74 L317.78,305.64 L318.22,306.54 L318.66,307.44 L319.10,308.34 L319.55,309.24 L320.00,310.14 L320.45,311.03 L320.91,311.92 L321.37,312.81 L321.84,313.70 L322.31,314.58 L322.79,315.46 L323.28,316.34 L323.78,317.21 L324.27,318.08 L324.78,318.95 L325.28,319.81 L325.79,320.68 L326.29,321.55 L326.80,322.41 L327.31,323.28 L327.81,324.15 L328.31,325.01 L328.81,325.88 L329.31,326.76 L329.80,327.63 L330.28,328.51 L330.76,329.39 L331.23,330.28 L331.70,331.16 L332.16,332.05 L332.63,332.94 L333.09,333.83 L333.55,334.73 L334.00,335.62 L334.46,336.51 L334.92,337.40 L335.38,338.30 L335.85,339.19 L336.31,340.07 L336.78,340.96 L337.25,341.84 L337.73,342.73 L338.21,343.60 L338.70,344.48 L339.20,345.35 L339.70,346.21 L340.20,347.08 L340.71,347.95 L341.22,348.81 L341.73,349.67 L342.25,350.53 L342.78,351.39 L343.30,352.24 L343.83,353.10 L344.37,353.95 L344.90,354.79 L345.45,355.64 L345.99,356.48 L346.54,357.31 L347.10,358.15 L347.67,358.97 L348.24,359.79 L348.83,360.60 L349.43,361.41 L350.02,362.22 L350.62,363.02 L351.21,363.83 L351.80,364.65 L352.38,365.47 L352.94,366.30 L353.50,367.13 L354.05,367.97 L354.60,368.81 L355.14,369.65 L355.69,370.50 L356.23,371.34 L356.77,372.19 L357.31,373.03 L357.86,373.87 L358.42,374.70 L358.98,375.54 L359.55,376.36 L360.13,377.17 L360.71,377.99 L361.31,378.79 L361.91,379.59 L362.51,380.39 L363.13,381.19 L363.74,381.98 L364.36,382.77 L364.98,383.56 L365.61,384.34 L366.24,385.13 L366.86,385.91 L367.49,386.69 L368.12,387.47 L368.75,388.26 L369.37,389.04 L370.00,389.83 L370.63,390.61 L371.25,391.39 L371.89,392.17 L372.52,392.95 L373.16,393.72 L373.81,394.49 L374.46,395.25 L375.11,396.01 L375.78,396.76 L376.45,397.50 L377.13,398.24 L377.81,398.98 L378.49,399.72 L379.18,400.46 L379.88,401.19 L380.58,401.92 L381.29,402.63 L382.01,403.33 L382.74,404.02 L383.48,404.69 L384.22,405.35 L384.98,405.99 L385.76,406.61 L386.54,407.23 L387.33,407.84 L388.14,408.44 L388.96,409.04 L389.78,409.62 L390.62,410.20 L391.46,410.76 L392.31,411.31 L393.17,411.84 L394.03,412.36 L394.90,412.87 L395.77,413.35 L396.65,413.82 L397.53,414.27 L398.42,414.70 L399.32,415.13 L400.22,415.55 L401.14,415.96 L402.06,416.36 L402.99,416.76 L403.92,417.14 L404.86,417.51 L405.81,417.88 L406.75,418.23 L407.70,418.57 L408.65,418.91 L409.61,419.23 L410.56,419.54 L411.51,419.85 L412.46,420.14 L413.42,420.43 L414.37,420.72 L415.33,421.00 L416.29,421.27 L417.26,421.54 L418.22,421.81 L419.19,422.06 L420.16,422.32 L421.13,422.56 L422.11,422.80 L423.09,423.03 L424.07,423.26 L425.05,423.48 L426.03,423.68 L427.02,423.88 L428.01,424.08 L429.00,424.26 L430.00,424.43" fill="none" stroke="#0000ff" stroke-width="3.3" stroke-linecap="round" stroke-linejoin="round" stroke-dasharray="14.0,9.8,1.4,9.8" stroke-dashoffset="0"/>
<path d="M240.00,91.77 L240.75,92.49 L241.48,93.23 L242.19,93.99 L242.86,94.76 L243.49,95.55 L244.07,96.36 L244.58,97.18 L245.01,98.03 L245.39,98.89 L245.74,99.79 L246.06,100.71 L246.36,101.65 L246.64,102.60 L246.90,103.57 L247.15,104.56 L247.39,105.55 L247.63,106.55 L247.86,107.55 L248.08,108.55 L248.32,109.55 L248.55,110.55 L248.80,111.53 L249.06,112.51 L249.34,113.48 L249.62,114.44 L249.91,115.40 L250.20,116.36 L250.50,117.32 L250.79,118.28 L251.09,119.24 L251.38,120.20 L251.67,121.16 L251.95,122.12 L252.23,123.08 L252.50,124.05 L252.75,125.02 L253.00,125.99 L253.23,126.96 L253.45,127.93 L253.67,128.91 L253.87,129.89 L254.08,130.87 L254.28,131.86 L254.47,132.84 L254.66,133.83 L254.86,134.81 L255.05,135.80 L255.24,136.78 L255.44,137.77 L255.63,138.75 L255.84,139.73 L256.05,140.71 L256.26,141.69 L256.48,142.67 L256.70,143.65 L256.92,144.63 L257.15,145.60 L257.37,146.58 L257.60,147.56 L257.82,148.54 L258.04,149.51 L258.26,150.49 L258.48,151.47 L258.68,152.45 L258.89,153.43 L259.08,154.42 L259.27,155.40 L259.45,156.39 L259.63,157.37 L259.80,158.36 L259.97,159.35 L260.14,160.34 L260.31,161.33 L260.47,162.32 L260.64,163.31 L260.81,164.29 L260.99,165.28 L261.17,166.27 L261.35,167.25 L261.55,168.24 L261.75,169.22 L261.96,170.20 L262.19,171.17 L262.41,172.15 L262.65,173.13 L262.88,174.10 L263.11,175.08 L263.35,176.06 L263.57,177.03 L263.79,178.01 L264.01,178.99 L264.21,179.97 L264.40,180.95 L264.58,181.94 L264.74,182.93 L264.90,183.92 L265.05,184.91 L265.19,185.90 L265.34,186.89 L265.47,187.89 L265.61,188.88 L265.74,189.87 L265.88,190.87 L266.02,191.86 L266.17,192.85 L266.32,193.85 L266.47,194.84 L266.64,195.83 L266.80,196.81 L266.97,197.80 L267.15,198.79 L267.32,199.78 L267.50,200.76 L267.69,201.75 L267.87,202.74 L268.06,203.72 L268.25,204.71 L268.44,205.69 L268.63,206.67 L268.83,207.66 L269.03,208.64 L269.23,209.62 L269.44,210.60 L269.65,211.58 L269.87,212.56 L270.09,213.54 L270.31,214.51 L270.54,215.49 L270.77,216.47 L270.99,217.44 L271.22,218.42 L271.45,219.40 L271.68,220.37 L271.90,221.35 L272.13,222.33 L272.35,223.31 L272.56,224.29 L272.78,225.27 L272.99,226.25 L273.20,227.22 L273.42,228.21 L273.63,229.19 L273.84,230.17 L274.05,231.15 L274.26,232.13 L274.47,233.11 L274.68,234.09 L274.89,235.07 L275.10,236.05 L275.31,237.03 L275.53,238.01 L275.74,238.99 L275.96,239.96 L276.17,240.94 L276.39,241.92 L276.61,242.90 L276.82,243.88 L277.04,244.86 L277.25,245.84 L277.47,246.82 L277.69,247.80 L277.90,248.78 L278.12,249.76 L278.33,250.73 L278.55,251.71 L278.76,252.69 L278.97,253.67 L279.18,254.66 L279.39,255.64 L279.60,256.62 L279.81,257.60 L280.02,258.58 L280.23,259.56 L280.44,260.54 L280.66,261.52 L280.88,262.49 L281.11,263.47 L281.33,264.45 L281.56,265.42 L281.79,266.40 L282.02,267.38 L282.24,268.36 L282.48,269.33 L282.71,270.31 L282.95,271.29 L283.19,272.26 L283.43,273.23 L283.68,274.20 L283.93,275.17 L284.19,276.14 L284.46,277.11 L284.73,278.07 L285.01,279.03 L285.30,279.99 L285.61,280.94 L285.93,281.89 L286.26,282.83 L286.60,283.78 L286.95,284.72 L287.30,285.66 L287.64,286.60 L287.99,287.55 L288.32,288.49 L288.65,289.44 L288.97,290.39 L289.27,291.35 L289.56,292.31 L289.85,293.27 L290.13,294.23 L290.40,295.20 L290.67,296.16 L290.94,297.13 L291.21,298.10 L291.48,299.06 L291.75,300.03 L292.03,300.99 L292.31,301.96 L292.59,302.92 L292.88,303.88 L293.18,304.83 L293.49,305.78 L293.81,306.73 L294.14,307.68 L294.47,308.62 L294.81,309.57 L295.16,310.51 L295.51,311.45 L295.87,312.39 L296.23,313.32 L296.59,314.26 L296.96,315.19 L297.33,316.12 L297.70,317.06 L298.07,317.98 L298.45,318.91 L298.83,319.84 L299.22,320.77 L299.60,321.69 L300.00,322.62 L300.39,323.54 L300.79,324.46 L301.19,325.38 L301.60,326.30 L302.01,327.21 L302.42,328.12 L302.84,329.04 L303.26,329.94 L303.69,330.85 L304.12,331.75 L304.56,332.66 L304.99,333.56 L305.44,334.46 L305.88,335.36 L306.34,336.26 L306.80,337.15 L307.26,338.04 L307.73,338.93 L308.20,339.81 L308.69,340.69 L309.17,341.57 L309.67,342.43 L310.17,343.30 L310.69,344.15 L311.21,345.01 L311.74,345.85 L312.29,346.70 L312.83,347.54 L313.39,348.38 L313.95,349.21 L314.51,350.04 L315.09,350.87 L315.66,351.69 L316.24,352.51 L316.82,353.33 L317.40,354.15 L317.98,354.97 L318.56,355.78 L319.14,356.60 L319.73,357.41 L320.32,358.22 L320.92,359.03 L321.52,359.84 L322.12,360.64 L322.73,361.44 L323.35,362.23 L323.97,363.02 L324.59,363.80 L325.23,364.58 L325.87,365.34 L326.52,366.10 L327.17,366.86 L327.83,367.62 L328.49,368.37 L329.17,369.12 L329.85,369.86 L330.53,370.60 L331.22,371.34 L331.92,372.06 L332.62,372.78 L333.33,373.49 L334.05,374.19 L334.78,374.88 L335.51,375.55 L336.25,376.22 L337.00,376.88 L337.76,377.52 L338.53,378.16 L339.31,378.78 L340.10,379.40 L340.90,380.02 L341.70,380.62 L342.50,381.23 L343.31,381.82 L344.13,382.42 L344.94,383.01 L345.76,383.60 L346.57,384.19 L347.38,384.77 L348.19,385.36 L349.00,385.95 L349.82,386.53 L350.63,387.12 L351.45,387.70 L352.27,388.28 L353.09,388.86 L353.92,389.44 L354.74,390.01 L355.57,390.58 L356.40,391.14 L357.23,391.70 L358.07,392.26 L358.91,392.81 L359.75,393.36 L360.59,393.90 L361.44,394.43 L362.29,394.96 L363.14,395.48 L364.00,396.00 L364.86,396.51 L365.72,397.01 L366.59,397.51 L367.46,398.01 L368.33,398.51 L369.21,399.00 L370.09,399.48 L370.97,399.96 L371.86,400.44 L372.74,400.91 L373.64,401.37 L374.53,401.83 L375.42,402.28 L376.32,402.73 L377.22,403.18 L378.12,403.61 L379.03,404.04 L379.93,404.47 L380.84,404.89 L381.75,405.30 L382.66,405.71 L383.58,406.12 L384.50,406.52 L385.42,406.92 L386.35,407.31 L387.27,407.70 L388.20,408.08 L389.13,408.46 L390.06,408.84 L391.00,409.20 L391.94,409.57 L392.87,409.92 L393.81,410.28 L394.75,410.62 L395.69,410.96 L396.64,411.30 L397.58,411.63 L398.53,411.95 L399.48,412.28 L400.43,412.59 L401.38,412.91 L402.34,413.22 L403.29,413.52 L404.25,413.82 L405.21,414.11 L406.17,414.40 L407.14,414.69 L408.10,414.96 L409.06,415.24 L410.03,415.51 L410.99,415.77 L411.96,416.02 L412.93,416.27 L413.91,416.51 L414.88,416.75 L415.86,416.98 L416.83,417.21 L417.81,417.44 L418.79,417.67 L419.76,417.89 L420.74,418.13 L421.72,418.36 L422.69,418.60 L423.66,418.84 L424.63,419.09 L425.61,419.33 L426.58,419.58 L427.55,419.83 L428.52,420.08 L429.49,420.33 L430.46,420.58 L431.43,420.83 L432.40,421.08 L433.37,421.33 L434.34,421.59 L435.31,421.84 L436.28,422.10 L437.25,422.35 L438.22,422.61 L439.19,422.87 L440.16,423.13 L441.13,423.39 L442.10,423.65 L443.06,423.91 L444.03,424.17 L445.00,424.43" fill="none" stroke="#0000ff" stroke-width="3.3" stroke-linecap="round" stroke-linejoin="round" stroke-dasharray="12.2,15.8" stroke-dashoffset="2.5"/>
<path d="M240.00,91.77 L240.95,92.17 L241.88,92.59 L242.79,93.05 L243.68,93.52 L244.54,94.03 L245.37,94.56 L246.16,95.12 L246.95,95.71 L247.75,96.33 L248.54,96.99 L249.32,97.67 L250.09,98.39 L250.84,99.12 L251.55,99.88 L252.23,100.65 L252.87,101.45 L253.45,102.25 L253.98,103.07 L254.45,103.89 L254.86,104.74 L255.23,105.63 L255.58,106.55 L255.90,107.49 L256.20,108.46 L256.49,109.45 L256.77,110.44 L257.04,111.44 L257.31,112.43 L257.58,113.41 L257.85,114.38 L258.13,115.35 L258.41,116.31 L258.68,117.28 L258.96,118.25 L259.22,119.21 L259.48,120.18 L259.74,121.16 L259.98,122.13 L260.22,123.10 L260.45,124.08 L260.67,125.06 L260.88,126.04 L261.07,127.02 L261.26,128.01 L261.45,128.99 L261.62,129.98 L261.80,130.97 L261.97,131.96 L262.14,132.95 L262.31,133.94 L262.49,134.93 L262.66,135.92 L262.84,136.90 L263.02,137.89 L263.20,138.88 L263.38,139.87 L263.56,140.85 L263.73,141.84 L263.90,142.83 L264.07,143.82 L264.23,144.81 L264.39,145.80 L264.54,146.79 L264.69,147.78 L264.84,148.78 L264.98,149.77 L265.12,150.76 L265.26,151.76 L265.40,152.75 L265.53,153.75 L265.67,154.74 L265.80,155.74 L265.93,156.73 L266.06,157.73 L266.18,158.72 L266.31,159.72 L266.44,160.71 L266.56,161.71 L266.69,162.71 L266.81,163.70 L266.94,164.70 L267.07,165.69 L267.20,166.69 L267.32,167.68 L267.45,168.68 L267.58,169.67 L267.71,170.67 L267.83,171.67 L267.96,172.66 L268.09,173.66 L268.21,174.65 L268.34,175.65 L268.46,176.64 L268.59,177.64 L268.71,178.64 L268.84,179.63 L268.96,180.63 L269.09,181.62 L269.21,182.62 L269.33,183.61 L269.46,184.61 L269.58,185.61 L269.70,186.60 L269.83,187.60 L269.95,188.59 L270.07,189.59 L270.19,190.59 L270.31,191.58 L270.43,192.58 L270.54,193.58 L270.66,194.58 L270.77,195.57 L270.88,196.57 L271.00,197.57 L271.11,198.57 L271.23,199.56 L271.34,200.56 L271.46,201.56 L271.58,202.55 L271.70,203.55 L271.83,204.55 L271.95,205.54 L272.08,206.54 L272.22,207.53 L272.36,208.52 L272.50,209.51 L272.65,210.50 L272.81,211.49 L272.98,212.48 L273.15,213.47 L273.33,214.46 L273.51,215.44 L273.70,216.43 L273.89,217.42 L274.08,218.40 L274.28,219.39 L274.48,220.37 L274.68,221.36 L274.88,222.34 L275.07,223.32 L275.27,224.31 L275.46,225.30 L275.65,226.28 L275.84,227.27 L276.02,228.25 L276.20,229.24 L276.37,230.23 L276.54,231.22 L276.70,232.21 L276.85,233.20 L277.00,234.19 L277.15,235.19 L277.30,236.18 L277.45,237.17 L277.59,238.17 L277.73,239.16 L277.88,240.15 L278.02,241.15 L278.16,242.14 L278.30,243.13 L278.44,244.13 L278.58,245.12 L278.71,246.12 L278.85,247.11 L278.98,248.11 L279.11,249.10 L279.24,250.10 L279.37,251.10 L279.50,252.09 L279.62,253.09 L279.75,254.08 L279.88,255.08 L280.01,256.08 L280.14,257.07 L280.27,258.07 L280.40,259.06 L280.53,260.06 L280.66,261.05 L280.79,262.05 L280.93,263.04 L281.07,264.04 L281.21,265.03 L281.35,266.02 L281.49,267.02 L281.64,268.01 L281.78,269.00 L281.94,269.99 L282.09,270.98 L282.25,271.97 L282.41,272.96 L282.58,273.95 L282.75,274.94 L282.92,275.92 L283.10,276.91 L283.29,277.89 L283.48,278.88 L283.67,279.86 L283.87,280.84 L284.07,281.83 L284.27,282.81 L284.47,283.79 L284.68,284.77 L284.89,285.76 L285.11,286.74 L285.32,287.72 L285.54,288.70 L285.76,289.68 L285.98,290.66 L286.19,291.64 L286.41,292.62 L286.63,293.60 L286.85,294.58 L287.07,295.56 L287.29,296.54 L287.51,297.52 L287.72,298.50 L287.94,299.48 L288.15,300.46 L288.36,301.45 L288.57,302.43 L288.78,303.41 L288.98,304.39 L289.18,305.38 L289.37,306.36 L289.56,307.35 L289.74,308.34 L289.93,309.32 L290.11,310.31 L290.30,311.30 L290.50,312.28 L290.70,313.26 L290.91,314.24 L291.13,315.22 L291.37,316.19 L291.62,317.16 L291.89,318.13 L292.16,319.10 L292.45,320.06 L292.74,321.02 L293.03,321.98 L293.33,322.94 L293.62,323.90 L293.90,324.87 L294.18,325.83 L294.46,326.79 L294.73,327.76 L295.01,328.73 L295.28,329.69 L295.56,330.66 L295.83,331.62 L296.11,332.59 L296.40,333.55 L296.68,334.51 L296.97,335.47 L297.27,336.43 L297.57,337.38 L297.88,338.34 L298.19,339.29 L298.51,340.25 L298.83,341.20 L299.15,342.15 L299.48,343.10 L299.81,344.05 L300.14,344.99 L300.48,345.94 L300.82,346.88 L301.16,347.82 L301.51,348.76 L301.87,349.70 L302.23,350.64 L302.59,351.58 L302.95,352.51 L303.32,353.45 L303.68,354.38 L304.04,355.32 L304.41,356.25 L304.76,357.19 L305.12,358.13 L305.47,359.07 L305.82,360.01 L306.18,360.96 L306.53,361.89 L306.90,362.83 L307.27,363.76 L307.65,364.69 L308.05,365.61 L308.45,366.52 L308.86,367.44 L309.28,368.35 L309.71,369.27 L310.15,370.18 L310.59,371.08 L311.05,371.98 L311.52,372.87 L311.99,373.75 L312.48,374.62 L312.99,375.48 L313.52,376.32 L314.08,377.15 L314.67,377.96 L315.28,378.76 L315.89,379.56 L316.50,380.37 L317.10,381.18 L317.67,382.00 L318.22,382.84 L318.73,383.70 L319.22,384.59 L319.70,385.48 L320.17,386.39 L320.63,387.30 L321.10,388.20 L321.57,389.10 L322.05,389.98 L322.55,390.84 L323.07,391.68 L323.62,392.49 L324.21,393.27 L324.83,394.03 L325.49,394.79 L326.17,395.53 L326.88,396.25 L327.62,396.97 L328.37,397.66 L329.13,398.33 L329.91,398.99 L330.70,399.62 L331.49,400.22 L332.29,400.80 L333.10,401.35 L333.94,401.88 L334.80,402.38 L335.68,402.86 L336.57,403.33 L337.47,403.80 L338.37,404.25 L339.28,404.71 L340.18,405.17 L341.08,405.64 L341.97,406.12 L342.85,406.61 L343.71,407.13 L344.55,407.67 L345.39,408.22 L346.22,408.79 L347.04,409.36 L347.87,409.93 L348.70,410.50 L349.53,411.06 L350.37,411.61 L351.22,412.14 L352.08,412.66 L352.94,413.19 L353.80,413.71 L354.67,414.23 L355.54,414.74 L356.42,415.23 L357.30,415.71 L358.20,416.17 L359.09,416.60 L360.00,417.00 L360.92,417.38 L361.85,417.74 L362.78,418.09 L363.73,418.43 L364.68,418.75 L365.63,419.07 L366.60,419.38 L367.56,419.68 L368.52,419.97 L369.49,420.26 L370.46,420.54 L371.42,420.83 L372.38,421.11 L373.34,421.39 L374.31,421.67 L375.27,421.94 L376.24,422.21 L377.21,422.48 L378.18,422.74 L379.15,422.99 L380.12,423.25 L381.09,423.49 L382.07,423.74 L383.04,423.97 L384.02,424.21 L385.00,424.43" fill="none" stroke="#0000ff" stroke-width="3.3" stroke-linecap="round" stroke-linejoin="round" stroke-dasharray="11.0,9.6,1.4,9.4,1.4,9.6" stroke-dashoffset="-9.5"/>
<line x1="119.80" y1="91.77" x2="302.76" y2="91.93" stroke="#0000ff" stroke-width="8.50" stroke-linecap="round"/>
<line x1="383.95" y1="424.37" x2="717.60" y2="424.43" stroke="#0000ff" stroke-width="8.50" stroke-linecap="round"/>
<g fill="#0000ff"><circle cx="303.30" cy="91.94" r="4.25"/><circle cx="304.30" cy="91.97" r="4.25"/><circle cx="305.30" cy="91.99" r="4.25"/><circle cx="306.30" cy="92.02" r="4.25"/><circle cx="307.30" cy="92.05" r="4.25"/><circle cx="308.30" cy="92.09" r="4.25"/><circle cx="309.30" cy="92.13" r="4.25"/><circle cx="310.30" cy="92.18" r="4.25"/><circle cx="311.30" cy="92.23" r="4.25"/><circle cx="312.30" cy="92.29" r="4.25"/><circle cx="313.30" cy="92.36" r="4.25"/><circle cx="314.30" cy="92.43" r="4.25"/><circle cx="315.30" cy="92.51" r="4.25"/><circle cx="316.30" cy="92.61" r="4.25"/><circle cx="317.30" cy="92.72" r="4.25"/><circle cx="318.30" cy="92.84" r="4.25"/><circle cx="319.30" cy="92.98" r="4.25"/><circle cx="320.30" cy="93.13" r="4.25"/><circle cx="321.30" cy="93.30" r="4.25"/><circle cx="322.30" cy="93.50" r="4.25"/><circle cx="323.30" cy="93.72" r="4.25"/><circle cx="324.30" cy="93.97" r="4.25"/><circle cx="325.30" cy="94.24" r="4.25"/><circle cx="326.30" cy="94.56" r="4.25"/><circle cx="327.30" cy="94.91" r="4.25"/><circle cx="328.30" cy="95.31" r="4.25"/><circle cx="329.30" cy="95.76" r="4.25"/><circle cx="330.30" cy="96.27" r="4.25"/><circle cx="331.30" cy="96.84" r="4.25"/><circle cx="332.30" cy="97.48" r="4.25"/><circle cx="333.30" cy="98.20" r="4.25"/><circle cx="334.30" cy="99.01" r="4.25"/><circle cx="335.30" cy="99.92" r="4.25"/><circle cx="336.30" cy="100.95" r="4.25"/><circle cx="337.30" cy="102.10" r="4.25"/><circle cx="338.30" cy="103.39" r="4.25"/><circle cx="339.30" cy="104.85" r="4.25"/><circle cx="340.30" cy="106.48" r="4.25"/><circle cx="341.30" cy="108.31" r="4.25"/><circle cx="342.30" cy="110.35" r="4.25"/><circle cx="343.30" cy="112.65" r="4.25"/><circle cx="344.30" cy="115.22" r="4.25"/><circle cx="345.30" cy="118.08" r="4.25"/><circle cx="346.30" cy="121.29" r="4.25"/><circle cx="347.30" cy="124.86" r="4.25"/><circle cx="348.30" cy="128.83" r="4.25"/><circle cx="349.30" cy="133.25" r="4.25"/><circle cx="350.30" cy="138.15" r="4.25"/><circle cx="351.30" cy="143.58" r="4.25"/><circle cx="352.30" cy="149.58" r="4.25"/><circle cx="353.30" cy="156.19" r="4.25"/><circle cx="354.30" cy="163.45" r="4.25"/><circle cx="355.30" cy="171.40" r="4.25"/><circle cx="356.30" cy="180.08" r="4.25"/><circle cx="357.30" cy="189.50" r="4.25"/><circle cx="358.30" cy="199.69" r="4.25"/><circle cx="359.30" cy="210.65" r="4.25"/><circle cx="360.30" cy="222.37" r="4.25"/><circle cx="361.30" cy="234.82" r="4.25"/><circle cx="362.30" cy="247.93" r="4.25"/><circle cx="363.30" cy="261.63" r="4.25"/><circle cx="364.30" cy="275.81" r="4.25"/><circle cx="365.30" cy="290.32" r="4.25"/><circle cx="366.30" cy="304.99" r="4.25"/><circle cx="367.30" cy="319.61" r="4.25"/><circle cx="368.30" cy="333.96" r="4.25"/><circle cx="369.30" cy="347.80" r="4.25"/><circle cx="370.30" cy="360.88" r="4.25"/><circle cx="371.30" cy="372.98" r="4.25"/><circle cx="372.30" cy="383.87" r="4.25"/><circle cx="373.30" cy="393.42" r="4.25"/><circle cx="374.30" cy="401.51" r="4.25"/><circle cx="375.30" cy="408.14" r="4.25"/><circle cx="376.30" cy="413.34" r="4.25"/><circle cx="377.30" cy="417.24" r="4.25"/><circle cx="378.30" cy="420.02" r="4.25"/><circle cx="379.30" cy="421.89" r="4.25"/><circle cx="380.30" cy="423.07" r="4.25"/><circle cx="381.30" cy="423.76" r="4.25"/><circle cx="382.30" cy="424.13" r="4.25"/><circle cx="383.30" cy="424.31" r="4.25"/></g>
</g>
<g clip-path="url(#cb)">
<path d="M304.00,599.98 L304.98,600.35 L305.93,600.77 L306.85,601.22 L307.75,601.72 L308.60,602.24 L309.43,602.79 L310.22,603.37 L310.97,603.97 L311.69,604.62 L312.39,605.33 L313.07,606.09 L313.72,606.89 L314.33,607.71 L314.91,608.56 L315.44,609.40 L315.93,610.25 L316.41,611.12 L316.86,612.01 L317.29,612.92 L317.71,613.85 L318.11,614.78 L318.48,615.73 L318.85,616.67 L319.19,617.62 L319.52,618.56 L319.83,619.51 L320.13,620.47 L320.41,621.43 L320.67,622.40 L320.93,623.37 L321.18,624.35 L321.43,625.32 L321.69,626.30 L321.94,627.27 L322.20,628.24 L322.45,629.21 L322.70,630.18 L322.95,631.16 L323.20,632.13 L323.45,633.10 L323.69,634.08 L323.94,635.05 L324.18,636.02 L324.43,637.00 L324.68,637.97 L324.93,638.94 L325.19,639.92 L325.44,640.89 L325.69,641.86 L325.93,642.84 L326.15,643.81 L326.36,644.79 L326.55,645.78 L326.73,646.76 L326.90,647.75 L327.07,648.74 L327.22,649.72 L327.38,650.72 L327.52,651.71 L327.67,652.70 L327.81,653.70 L327.94,654.69 L328.07,655.69 L328.20,656.68 L328.33,657.68 L328.46,658.68 L328.59,659.67 L328.71,660.67 L328.84,661.67 L328.97,662.67 L329.10,663.66 L329.23,664.66 L329.36,665.66 L329.50,666.65 L329.64,667.65 L329.79,668.64 L329.94,669.63 L330.10,670.62 L330.26,671.61 L330.43,672.60 L330.59,673.59 L330.77,674.58 L330.94,675.57 L331.12,676.56 L331.29,677.55 L331.47,678.54 L331.65,679.52 L331.83,680.51 L332.01,681.50 L332.19,682.49 L332.37,683.48 L332.55,684.46 L332.73,685.45 L332.90,686.44 L333.07,687.43 L333.24,688.42 L333.40,689.41 L333.56,690.40 L333.72,691.39 L333.88,692.38 L334.03,693.38 L334.19,694.37 L334.34,695.36 L334.49,696.35 L334.64,697.35 L334.78,698.34 L334.93,699.33 L335.08,700.32 L335.22,701.32 L335.37,702.31 L335.51,703.30 L335.66,704.30 L335.80,705.29 L335.95,706.29 L336.10,707.28 L336.24,708.27 L336.39,709.26 L336.54,710.26 L336.69,711.25 L336.84,712.24 L336.99,713.24 L337.13,714.23 L337.28,715.22 L337.43,716.21 L337.58,717.21 L337.73,718.20 L337.88,719.19 L338.03,720.19 L338.18,721.18 L338.33,722.17 L338.47,723.16 L338.62,724.16 L338.77,725.15 L338.92,726.14 L339.07,727.14 L339.22,728.13 L339.37,729.12 L339.52,730.11 L339.66,731.11 L339.81,732.10 L339.96,733.09 L340.10,734.09 L340.25,735.08 L340.40,736.07 L340.54,737.07 L340.70,738.06 L340.85,739.05 L341.01,740.04 L341.17,741.03 L341.33,742.02 L341.49,743.01 L341.65,744.01 L341.81,745.00 L341.98,745.99 L342.14,746.98 L342.31,747.97 L342.48,748.96 L342.65,749.95 L342.82,750.94 L343.00,751.93 L343.17,752.91 L343.35,753.90 L343.53,754.89 L343.71,755.88 L343.90,756.86 L344.08,757.85 L344.27,758.84 L344.46,759.82 L344.66,760.80 L344.86,761.79 L345.06,762.77 L345.26,763.75 L345.47,764.74 L345.68,765.72 L345.89,766.70 L346.11,767.68 L346.32,768.66 L346.54,769.64 L346.76,770.62 L346.99,771.60 L347.22,772.58 L347.44,773.56 L347.67,774.53 L347.91,775.51 L348.14,776.49 L348.38,777.46 L348.62,778.44 L348.85,779.41 L349.10,780.39 L349.34,781.36 L349.59,782.33 L349.84,783.30 L350.09,784.28 L350.34,785.25 L350.60,786.22 L350.86,787.19 L351.12,788.16 L351.38,789.13 L351.65,790.10 L351.92,791.06 L352.19,792.03 L352.46,793.00 L352.74,793.96 L353.01,794.93 L353.29,795.89 L353.57,796.86 L353.86,797.82 L354.14,798.78 L354.42,799.75 L354.71,800.71 L355.00,801.67 L355.29,802.63 L355.59,803.59 L355.89,804.55 L356.19,805.50 L356.49,806.46 L356.79,807.42 L357.10,808.38 L357.41,809.33 L357.72,810.29 L358.03,811.24 L358.35,812.19 L358.66,813.15 L358.98,814.10 L359.30,815.05 L359.62,816.00 L359.95,816.95 L360.27,817.90 L360.60,818.85 L360.93,819.80 L361.26,820.75 L361.59,821.69 L361.92,822.64 L362.26,823.59 L362.59,824.53 L362.93,825.48 L363.27,826.43 L363.61,827.37 L363.96,828.32 L364.30,829.26 L364.65,830.20 L365.00,831.14 L365.36,832.08 L365.72,833.02 L366.08,833.96 L366.44,834.90 L366.81,835.83 L367.18,836.76 L367.55,837.69 L367.93,838.62 L368.31,839.55 L368.70,840.47 L369.09,841.40 L369.48,842.32 L369.88,843.24 L370.28,844.17 L370.69,845.09 L371.10,846.01 L371.52,846.92 L371.94,847.84 L372.37,848.75 L372.80,849.65 L373.24,850.56 L373.68,851.45 L374.14,852.35 L374.60,853.24 L375.06,854.12 L375.54,855.00 L376.02,855.88 L376.50,856.76 L377.00,857.64 L377.50,858.51 L378.00,859.39 L378.51,860.26 L379.03,861.12 L379.56,861.99 L380.09,862.84 L380.63,863.70 L381.18,864.54 L381.73,865.38 L382.29,866.22 L382.86,867.04 L383.44,867.86 L384.02,868.67 L384.61,869.48 L385.20,870.27 L385.82,871.06 L386.44,871.83 L387.08,872.61 L387.73,873.37 L388.39,874.13 L389.06,874.89 L389.74,875.63 L390.43,876.37 L391.12,877.10 L391.82,877.83 L392.53,878.55 L393.24,879.27 L393.95,879.97 L394.67,880.67 L395.38,881.37 L396.11,882.06 L396.84,882.75 L397.58,883.43 L398.32,884.11 L399.07,884.78 L399.83,885.45 L400.60,886.10 L401.37,886.75 L402.15,887.39 L402.93,888.02 L403.72,888.63 L404.52,889.24 L405.32,889.83 L406.13,890.41 L406.95,890.99 L407.78,891.55 L408.62,892.10 L409.47,892.65 L410.32,893.18 L411.18,893.71 L412.04,894.24 L412.90,894.76 L413.76,895.27 L414.63,895.78 L415.49,896.29 L416.36,896.79 L417.23,897.29 L418.10,897.79 L418.98,898.28 L419.86,898.77 L420.75,899.25 L421.63,899.72 L422.53,900.18 L423.42,900.63 L424.32,901.07 L425.22,901.51 L426.13,901.93 L427.05,902.34 L427.97,902.74 L428.89,903.13 L429.82,903.52 L430.75,903.90 L431.68,904.28 L432.61,904.65 L433.55,905.02 L434.48,905.39 L435.41,905.77 L436.35,906.14 L437.28,906.51 L438.21,906.88 L439.15,907.25 L440.08,907.61 L441.02,907.97 L441.96,908.32 L442.91,908.67 L443.85,909.01 L444.80,909.33 L445.75,909.65 L446.70,909.96 L447.66,910.26 L448.62,910.56 L449.58,910.85 L450.55,911.13 L451.51,911.41 L452.48,911.69 L453.44,911.96 L454.41,912.24 L455.38,912.50 L456.34,912.77 L457.31,913.03 L458.28,913.29 L459.25,913.54 L460.23,913.79 L461.20,914.04 L462.17,914.29 L463.15,914.54 L464.12,914.78 L465.09,915.02 L466.07,915.27 L467.04,915.51 L468.02,915.75 L468.99,915.99 L469.97,916.23 L470.94,916.47 L471.92,916.70 L472.90,916.93 L473.88,917.15 L474.86,917.37 L475.84,917.58 L476.82,917.79 L477.80,917.99 L478.79,918.18 L479.77,918.38 L480.76,918.57 L481.74,918.76 L482.73,918.95 L483.71,919.15 L484.70,919.34 L485.68,919.54 L486.67,919.74 L487.65,919.94 L488.64,920.14 L489.62,920.34 L490.60,920.54 L491.59,920.73 L492.57,920.93 L493.56,921.12 L494.54,921.31 L495.53,921.50 L496.52,921.69 L497.50,921.87 L498.49,922.05 L499.48,922.23 L500.47,922.41 L501.45,922.58 L502.44,922.76 L503.43,922.93 L504.42,923.10 L505.41,923.27 L506.40,923.43 L507.39,923.60 L508.38,923.76 L509.37,923.91 L510.37,924.07 L511.36,924.23 L512.35,924.38 L513.34,924.54 L514.33,924.69 L515.32,924.85 L516.32,925.01 L517.31,925.18 L518.30,925.34 L519.29,925.51 L520.28,925.67 L521.27,925.84 L522.26,925.99 L523.25,926.15 L524.24,926.29 L525.24,926.43 L526.23,926.56 L527.23,926.68 L528.23,926.80 L529.22,926.91 L530.22,927.03 L531.22,927.14 L532.22,927.25 L533.21,927.37 L534.21,927.50 L535.21,927.63 L536.20,927.77 L537.19,927.91 L538.18,928.06 L539.18,928.22 L540.17,928.37 L541.16,928.54 L542.15,928.70 L543.14,928.86 L544.13,929.03 L545.12,929.19 L546.11,929.35 L547.10,929.52 L548.09,929.69 L549.08,929.87 L550.07,930.06 L551.06,930.25 L552.05,930.45 L553.04,930.65 L554.02,930.84 L555.01,931.04 L556.00,931.22 L556.99,931.40 L557.98,931.56 L558.97,931.70 L559.96,931.83 L560.96,931.94 L561.95,932.02 L562.95,932.09 L563.95,932.16 L564.95,932.22 L565.94,932.29 L566.94,932.35 L567.95,932.41 L568.95,932.46 L569.95,932.51 L570.95,932.56 L571.96,932.60 L572.96,932.64 L573.97,932.67 L574.97,932.69 L575.98,932.71 L576.99,932.72 L578.00,932.73" fill="none" stroke="#7f00ff" stroke-width="3.3" stroke-linecap="round" stroke-linejoin="round"/>
<path d="M286.00,599.98 L286.94,600.40 L287.85,600.85 L288.75,601.32 L289.63,601.82 L290.48,602.35 L291.30,602.90 L292.10,603.47 L292.91,604.08 L293.74,604.71 L294.57,605.37 L295.37,606.07 L296.14,606.79 L296.86,607.53 L297.49,608.30 L298.03,609.09 L298.45,609.90 L298.80,610.76 L299.12,611.66 L299.41,612.60 L299.68,613.57 L299.92,614.57 L300.15,615.59 L300.36,616.61 L300.56,617.64 L300.75,618.66 L300.94,619.66 L301.12,620.65 L301.29,621.63 L301.44,622.63 L301.59,623.62 L301.74,624.62 L301.87,625.61 L302.01,626.61 L302.14,627.61 L302.27,628.61 L302.40,629.61 L302.54,630.60 L302.69,631.60 L302.84,632.59 L302.99,633.59 L303.14,634.58 L303.29,635.57 L303.43,636.57 L303.57,637.57 L303.70,638.56 L303.82,639.56 L303.93,640.56 L304.03,641.56 L304.13,642.56 L304.22,643.56 L304.31,644.56 L304.40,645.56 L304.49,646.56 L304.57,647.57 L304.65,648.57 L304.74,649.57 L304.82,650.57 L304.90,651.58 L304.98,652.58 L305.07,653.58 L305.15,654.58 L305.24,655.58 L305.33,656.59 L305.42,657.59 L305.50,658.59 L305.58,659.59 L305.65,660.59 L305.72,661.60 L305.78,662.60 L305.83,663.60 L305.87,664.61 L305.91,665.61 L305.94,666.62 L305.98,667.62 L306.01,668.63 L306.04,669.63 L306.07,670.64 L306.10,671.64 L306.14,672.65 L306.18,673.65 L306.23,674.66 L306.29,675.66 L306.35,676.66 L306.42,677.67 L306.50,678.67 L306.57,679.67 L306.65,680.67 L306.73,681.68 L306.81,682.68 L306.88,683.68 L306.96,684.68 L307.04,685.69 L307.12,686.69 L307.21,687.69 L307.30,688.69 L307.38,689.69 L307.47,690.70 L307.55,691.70 L307.63,692.70 L307.71,693.70 L307.78,694.71 L307.85,695.71 L307.91,696.71 L307.96,697.71 L308.01,698.72 L308.05,699.72 L308.10,700.73 L308.14,701.73 L308.18,702.74 L308.21,703.74 L308.25,704.75 L308.29,705.75 L308.32,706.76 L308.36,707.76 L308.39,708.77 L308.43,709.77 L308.46,710.78 L308.50,711.78 L308.54,712.79 L308.58,713.79 L308.62,714.79 L308.67,715.80 L308.72,716.80 L308.77,717.81 L308.83,718.81 L308.89,719.81 L308.95,720.82 L309.02,721.82 L309.08,722.82 L309.15,723.83 L309.21,724.83 L309.28,725.83 L309.34,726.84 L309.41,727.84 L309.48,728.84 L309.55,729.85 L309.63,730.85 L309.70,731.85 L309.77,732.86 L309.84,733.86 L309.91,734.86 L309.97,735.86 L310.03,736.87 L310.08,737.87 L310.13,738.88 L310.17,739.88 L310.21,740.88 L310.25,741.89 L310.28,742.89 L310.32,743.90 L310.35,744.90 L310.38,745.91 L310.41,746.91 L310.44,747.92 L310.47,748.92 L310.49,749.93 L310.52,750.93 L310.55,751.94 L310.58,752.94 L310.61,753.95 L310.65,754.95 L310.68,755.96 L310.72,756.96 L310.76,757.97 L310.80,758.97 L310.84,759.98 L310.89,760.98 L310.94,761.98 L311.00,762.99 L311.06,763.99 L311.12,765.00 L311.18,766.00 L311.24,767.00 L311.31,768.01 L311.37,769.01 L311.44,770.01 L311.51,771.02 L311.58,772.02 L311.65,773.02 L311.71,774.03 L311.78,775.03 L311.85,776.03 L311.92,777.03 L311.98,778.04 L312.05,779.04 L312.11,780.05 L312.17,781.05 L312.23,782.05 L312.28,783.06 L312.34,784.06 L312.39,785.06 L312.44,786.07 L312.49,787.07 L312.54,788.08 L312.59,789.08 L312.64,790.09 L312.69,791.09 L312.74,792.09 L312.79,793.10 L312.85,794.10 L312.90,795.11 L312.95,796.11 L313.01,797.11 L313.06,798.12 L313.12,799.12 L313.18,800.13 L313.24,801.13 L313.30,802.13 L313.37,803.13 L313.44,804.14 L313.51,805.14 L313.58,806.14 L313.66,807.14 L313.74,808.15 L313.82,809.15 L313.90,810.15 L313.98,811.15 L314.06,812.16 L314.15,813.16 L314.24,814.16 L314.32,815.16 L314.41,816.16 L314.50,817.16 L314.58,818.17 L314.67,819.17 L314.75,820.17 L314.84,821.17 L314.92,822.17 L315.01,823.18 L315.09,824.18 L315.17,825.18 L315.25,826.18 L315.33,827.18 L315.41,828.19 L315.48,829.19 L315.56,830.19 L315.63,831.20 L315.71,832.20 L315.78,833.20 L315.86,834.20 L315.94,835.21 L316.02,836.21 L316.09,837.21 L316.18,838.21 L316.26,839.22 L316.34,840.22 L316.43,841.22 L316.52,842.22 L316.61,843.22 L316.70,844.22 L316.80,845.22 L316.90,846.22 L317.00,847.22 L317.11,848.22 L317.21,849.22 L317.32,850.23 L317.42,851.23 L317.53,852.23 L317.65,853.23 L317.76,854.23 L317.88,855.24 L318.00,856.24 L318.13,857.24 L318.26,858.23 L318.39,859.23 L318.53,860.23 L318.67,861.22 L318.82,862.22 L318.97,863.21 L319.12,864.20 L319.29,865.19 L319.45,866.17 L319.63,867.16 L319.82,868.14 L320.04,869.11 L320.28,870.09 L320.53,871.06 L320.80,872.03 L321.08,873.00 L321.37,873.97 L321.65,874.93 L321.94,875.90 L322.22,876.87 L322.49,877.84 L322.75,878.81 L323.00,879.79 L323.23,880.77 L323.45,881.75 L323.67,882.73 L323.88,883.71 L324.08,884.70 L324.29,885.69 L324.48,886.68 L324.68,887.67 L324.87,888.66 L325.06,889.65 L325.25,890.64 L325.45,891.63 L325.64,892.62 L325.84,893.61 L326.04,894.59 L326.25,895.58 L326.46,896.56 L326.67,897.54 L326.90,898.52 L327.13,899.49 L327.37,900.46 L327.62,901.43 L327.89,902.39 L328.16,903.35 L328.45,904.31 L328.75,905.27 L329.06,906.23 L329.39,907.18 L329.72,908.14 L330.07,909.09 L330.43,910.03 L330.80,910.97 L331.18,911.91 L331.57,912.84 L331.98,913.76 L332.38,914.68 L332.80,915.58 L333.23,916.48 L333.68,917.37 L334.16,918.26 L334.65,919.14 L335.17,920.01 L335.69,920.87 L336.24,921.73 L336.79,922.57 L337.35,923.41 L337.92,924.23 L338.50,925.04 L339.09,925.85 L339.70,926.64 L340.31,927.43 L340.95,928.22 L341.59,928.99 L342.25,929.75 L342.92,930.51 L343.60,931.26 L344.29,932.00 L345.00,932.73" fill="none" stroke="#7f00ff" stroke-width="3.3" stroke-linecap="round" stroke-linejoin="round" stroke-dasharray="11.0,9.6,1.4,9.4,1.4,9.6" stroke-dashoffset="-6.5"/>
<line x1="190.00" y1="599.98" x2="294.05" y2="600.14" stroke="#7f00ff" stroke-width="8.50" stroke-linecap="round"/>
<line x1="440.00" y1="932.73" x2="717.60" y2="932.73" stroke="#7f00ff" stroke-width="8.50" stroke-linecap="round"/>
<g fill="#7f00ff"><circle cx="294.15" cy="600.14" r="4.25"/><circle cx="294.77" cy="600.17" r="4.25"/><circle cx="295.39" cy="600.19" r="4.25"/><circle cx="296.01" cy="600.22" r="4.25"/><circle cx="296.63" cy="600.25" r="4.25"/><circle cx="297.25" cy="600.29" r="4.25"/><circle cx="297.87" cy="600.33" r="4.25"/><circle cx="298.49" cy="600.38" r="4.25"/><circle cx="299.11" cy="600.43" r="4.25"/><circle cx="299.73" cy="600.49" r="4.25"/><circle cx="300.35" cy="600.56" r="4.25"/><circle cx="300.97" cy="600.64" r="4.25"/><circle cx="301.59" cy="600.73" r="4.25"/><circle cx="302.21" cy="600.83" r="4.25"/><circle cx="302.83" cy="600.94" r="4.25"/><circle cx="303.45" cy="601.06" r="4.25"/><circle cx="304.07" cy="601.21" r="4.25"/><circle cx="304.69" cy="601.37" r="4.25"/><circle cx="305.31" cy="601.55" r="4.25"/><circle cx="305.93" cy="601.76" r="4.25"/><circle cx="306.55" cy="602.00" r="4.25"/><circle cx="307.17" cy="602.26" r="4.25"/><circle cx="307.79" cy="602.56" r="4.25"/><circle cx="308.41" cy="602.90" r="4.25"/><circle cx="309.03" cy="603.29" r="4.25"/><circle cx="309.65" cy="603.72" r="4.25"/><circle cx="310.27" cy="604.22" r="4.25"/><circle cx="310.89" cy="604.77" r="4.25"/><circle cx="311.51" cy="605.40" r="4.25"/><circle cx="312.13" cy="606.11" r="4.25"/><circle cx="312.75" cy="606.91" r="4.25"/><circle cx="313.37" cy="607.82" r="4.25"/><circle cx="313.99" cy="608.84" r="4.25"/><circle cx="314.61" cy="609.99" r="4.25"/><circle cx="315.23" cy="611.29" r="4.25"/><circle cx="315.85" cy="612.75" r="4.25"/><circle cx="316.47" cy="614.40" r="4.25"/><circle cx="317.09" cy="616.26" r="4.25"/><circle cx="317.71" cy="618.35" r="4.25"/><circle cx="318.33" cy="620.70" r="4.25"/><circle cx="318.95" cy="623.34" r="4.25"/><circle cx="319.57" cy="626.30" r="4.25"/><circle cx="320.19" cy="629.61" r="4.25"/><circle cx="320.81" cy="633.32" r="4.25"/><circle cx="321.43" cy="637.47" r="4.25"/><circle cx="322.05" cy="642.09" r="4.25"/><circle cx="322.67" cy="647.24" r="4.25"/><circle cx="323.29" cy="652.96" r="4.25"/><circle cx="323.91" cy="659.29" r="4.25"/><circle cx="324.53" cy="666.28" r="4.25"/><circle cx="325.15" cy="673.99" r="4.25"/><circle cx="325.77" cy="682.44" r="4.25"/><circle cx="326.39" cy="691.68" r="4.25"/><circle cx="327.01" cy="701.72" r="4.25"/><circle cx="327.63" cy="712.58" r="4.25"/><circle cx="328.25" cy="724.27" r="4.25"/><circle cx="328.87" cy="736.75" r="4.25"/><circle cx="329.49" cy="749.98" r="4.25"/><circle cx="330.11" cy="763.88" r="4.25"/><circle cx="330.73" cy="778.34" r="4.25"/><circle cx="331.35" cy="793.23" r="4.25"/><circle cx="331.97" cy="808.35" r="4.25"/><circle cx="332.59" cy="823.51" r="4.25"/><circle cx="333.21" cy="838.44" r="4.25"/><circle cx="333.83" cy="852.90" r="4.25"/><circle cx="334.45" cy="866.62" r="4.25"/><circle cx="335.07" cy="879.32" r="4.25"/><circle cx="335.69" cy="890.78" r="4.25"/><circle cx="336.31" cy="900.81" r="4.25"/><circle cx="336.93" cy="909.31" r="4.25"/><circle cx="337.55" cy="916.23" r="4.25"/><circle cx="338.17" cy="921.63" r="4.25"/><circle cx="338.79" cy="925.64" r="4.25"/><circle cx="339.41" cy="928.46" r="4.25"/><circle cx="340.03" cy="930.33" r="4.25"/><circle cx="340.65" cy="931.48" r="4.25"/><circle cx="341.27" cy="932.13" r="4.25"/><circle cx="341.89" cy="932.47" r="4.25"/><circle cx="342.51" cy="932.62" r="4.25"/></g>
<path d="M171.00,599.98 L172.07,600.07 L173.09,600.27 L174.07,600.55 L175.00,600.88 L175.87,601.24 L176.72,601.69 L177.57,602.31 L178.36,603.04 L179.04,603.82 L179.56,604.60 L179.99,605.38 L180.40,606.19 L180.79,607.02 L181.17,607.88 L181.52,608.76 L181.87,609.65 L182.19,610.57 L182.51,611.50 L182.80,612.46 L183.09,613.42 L183.37,614.40 L183.63,615.39 L183.88,616.39 L184.13,617.40 L184.37,618.42 L184.59,619.44 L184.82,620.47 L185.03,621.51 L185.24,622.54 L185.45,623.58 L185.65,624.61 L185.86,625.65 L186.06,626.68 L186.25,627.70 L186.45,628.72 L186.65,629.73 L186.85,630.74 L187.06,631.73 L187.27,632.71 L187.47,633.69 L187.67,634.67 L187.87,635.65 L188.07,636.64 L188.26,637.62 L188.45,638.60 L188.63,639.59 L188.81,640.58 L188.99,641.56 L189.17,642.55 L189.35,643.54 L189.52,644.53 L189.69,645.52 L189.86,646.51 L190.02,647.50 L190.19,648.49 L190.35,649.48 L190.51,650.47 L190.67,651.47 L190.83,652.46 L190.99,653.45 L191.14,654.45 L191.30,655.44 L191.45,656.44 L191.61,657.43 L191.76,658.42 L191.91,659.42 L192.06,660.41 L192.22,661.41 L192.37,662.40 L192.52,663.40 L192.67,664.39 L192.83,665.39 L192.98,666.38 L193.13,667.38 L193.29,668.37 L193.44,669.36 L193.60,670.36 L193.76,671.35 L193.92,672.34 L194.08,673.33 L194.24,674.33 L194.40,675.32 L194.57,676.31 L194.73,677.30 L194.90,678.29 L195.06,679.28 L195.23,680.27 L195.40,681.26 L195.56,682.25 L195.73,683.24 L195.90,684.23 L196.07,685.22 L196.24,686.22 L196.41,687.21 L196.57,688.20 L196.74,689.19 L196.91,690.18 L197.07,691.17 L197.24,692.16 L197.40,693.15 L197.57,694.14 L197.73,695.13 L197.89,696.13 L198.06,697.12 L198.22,698.11 L198.37,699.10 L198.53,700.09 L198.69,701.09 L198.84,702.08 L198.99,703.07 L199.14,704.06 L199.29,705.06 L199.44,706.05 L199.58,707.04 L199.73,708.04 L199.87,709.03 L200.00,710.03 L200.14,711.02 L200.27,712.02 L200.40,713.01 L200.52,714.01 L200.64,715.01 L200.76,716.01 L200.88,717.01 L200.99,718.00 L201.10,719.00 L201.21,720.00 L201.32,721.00 L201.43,722.00 L201.54,723.00 L201.65,724.00 L201.76,725.00 L201.87,726.00 L201.98,727.00 L202.09,728.00 L202.20,729.00 L202.31,730.00 L202.43,730.99 L202.55,731.99 L202.66,732.99 L202.79,733.99 L202.91,734.98 L203.04,735.98 L203.17,736.97 L203.31,737.96 L203.45,738.96 L203.59,739.95 L203.74,740.94 L203.90,741.93 L204.06,742.92 L204.22,743.91 L204.39,744.90 L204.56,745.89 L204.74,746.87 L204.92,747.86 L205.11,748.85 L205.30,749.83 L205.49,750.82 L205.68,751.80 L205.88,752.79 L206.08,753.77 L206.29,754.76 L206.49,755.74 L206.70,756.72 L206.91,757.71 L207.12,758.69 L207.33,759.67 L207.55,760.66 L207.76,761.64 L207.98,762.62 L208.19,763.60 L208.41,764.59 L208.62,765.57 L208.84,766.55 L209.05,767.53 L209.27,768.52 L209.48,769.50 L209.69,770.48 L209.90,771.47 L210.11,772.45 L210.32,773.43 L210.53,774.42 L210.73,775.40 L210.93,776.39 L211.13,777.37 L211.33,778.36 L211.52,779.34 L211.71,780.33 L211.90,781.32 L212.08,782.30 L212.26,783.29 L212.44,784.28 L212.61,785.27 L212.79,786.26 L212.96,787.25 L213.13,788.24 L213.30,789.23 L213.46,790.22 L213.63,791.21 L213.79,792.20 L213.96,793.19 L214.12,794.18 L214.28,795.18 L214.44,796.17 L214.60,797.16 L214.76,798.15 L214.91,799.15 L215.07,800.14 L215.23,801.13 L215.39,802.12 L215.54,803.12 L215.70,804.11 L215.86,805.10 L216.02,806.09 L216.18,807.09 L216.34,808.08 L216.50,809.07 L216.66,810.06 L216.82,811.05 L216.98,812.05 L217.14,813.04 L217.31,814.03 L217.47,815.02 L217.64,816.01 L217.81,817.00 L217.98,817.99 L218.16,818.98 L218.33,819.97 L218.51,820.95 L218.69,821.94 L218.87,822.93 L219.05,823.92 L219.24,824.90 L219.43,825.89 L219.62,826.87 L219.82,827.86 L220.01,828.84 L220.22,829.83 L220.42,830.81 L220.63,831.79 L220.83,832.78 L221.04,833.76 L221.26,834.74 L221.47,835.72 L221.68,836.70 L221.90,837.68 L222.12,838.66 L222.33,839.65 L222.55,840.63 L222.77,841.61 L222.99,842.59 L223.21,843.57 L223.43,844.55 L223.65,845.53 L223.87,846.51 L224.09,847.49 L224.31,848.47 L224.53,849.45 L224.75,850.43 L224.96,851.42 L225.18,852.40 L225.39,853.38 L225.60,854.36 L225.81,855.34 L226.02,856.33 L226.22,857.31 L226.42,858.29 L226.62,859.28 L226.81,860.27 L227.00,861.26 L227.19,862.25 L227.37,863.25 L227.55,864.24 L227.72,865.24 L227.90,866.24 L228.07,867.23 L228.24,868.23 L228.41,869.23 L228.58,870.23 L228.75,871.23 L228.92,872.23 L229.09,873.22 L229.26,874.22 L229.44,875.22 L229.61,876.21 L229.79,877.21 L229.97,878.20 L230.15,879.19 L230.34,880.18 L230.53,881.17 L230.73,882.15 L230.93,883.14 L231.13,884.12 L231.34,885.10 L231.56,886.07 L231.78,887.04 L232.01,888.01 L232.24,888.98 L232.49,889.94 L232.74,890.90 L233.00,891.85 L233.27,892.80 L233.54,893.75 L233.84,894.69 L234.16,895.63 L234.50,896.56 L234.87,897.49 L235.25,898.42 L235.65,899.35 L236.06,900.27 L236.49,901.19 L236.92,902.10 L237.37,903.01 L237.83,903.92 L238.29,904.82 L238.76,905.72 L239.23,906.62 L239.70,907.51 L240.17,908.40 L240.64,909.28 L241.12,910.17 L241.59,911.05 L242.08,911.94 L242.57,912.82 L243.08,913.71 L243.59,914.58 L244.11,915.45 L244.65,916.31 L245.19,917.16 L245.75,917.99 L246.33,918.81 L246.91,919.61 L247.52,920.39 L248.14,921.16 L248.79,921.91 L249.47,922.65 L250.17,923.38 L250.89,924.09 L251.62,924.79 L252.37,925.48 L253.13,926.15 L253.89,926.81 L254.65,927.46 L255.42,928.09 L256.20,928.71 L257.00,929.32 L257.80,929.92 L258.62,930.51 L259.45,931.08 L260.29,931.64 L261.14,932.19 L262.00,932.73" fill="none" stroke="#ff0000" stroke-width="3.3" stroke-linecap="round" stroke-linejoin="round"/>
<path d="M160.00,599.98 L161.10,600.23 L162.15,600.56 L163.14,600.97 L164.03,601.43 L164.82,601.94 L165.49,602.49 L166.06,603.12 L166.58,603.89 L167.06,604.77 L167.51,605.72 L167.91,606.73 L168.28,607.75 L168.62,608.77 L168.93,609.75 L169.21,610.70 L169.48,611.64 L169.74,612.59 L169.99,613.54 L170.24,614.50 L170.48,615.46 L170.71,616.42 L170.93,617.39 L171.15,618.36 L171.35,619.34 L171.56,620.31 L171.75,621.29 L171.95,622.28 L172.13,623.26 L172.31,624.25 L172.49,625.24 L172.66,626.23 L172.83,627.22 L173.00,628.22 L173.16,629.21 L173.32,630.21 L173.48,631.21 L173.63,632.21 L173.79,633.22 L173.94,634.22 L174.09,635.22 L174.24,636.22 L174.39,637.23 L174.54,638.23 L174.69,639.24 L174.84,640.24 L174.99,641.25 L175.15,642.25 L175.30,643.25 L175.46,644.25 L175.62,645.26 L175.79,646.26 L175.95,647.25 L176.12,648.25 L176.30,649.25 L176.47,650.24 L176.66,651.23 L176.84,652.23 L177.04,653.21 L177.23,654.20 L177.44,655.18 L177.65,656.17 L177.86,657.15 L178.07,658.13 L178.29,659.11 L178.51,660.09 L178.73,661.07 L178.95,662.05 L179.18,663.03 L179.40,664.01 L179.63,664.99 L179.86,665.97 L180.09,666.94 L180.33,667.92 L180.56,668.90 L180.79,669.88 L181.03,670.85 L181.26,671.83 L181.50,672.81 L181.74,673.79 L181.97,674.76 L182.21,675.74 L182.45,676.72 L182.68,677.69 L182.92,678.67 L183.16,679.65 L183.39,680.62 L183.63,681.60 L183.87,682.57 L184.11,683.55 L184.35,684.53 L184.59,685.50 L184.83,686.48 L185.07,687.45 L185.32,688.43 L185.56,689.40 L185.80,690.38 L186.05,691.35 L186.29,692.33 L186.54,693.30 L186.78,694.28 L187.03,695.25 L187.27,696.23 L187.52,697.20 L187.76,698.17 L188.01,699.15 L188.25,700.12 L188.50,701.10 L188.74,702.07 L188.99,703.05 L189.24,704.02 L189.49,704.99 L189.74,705.97 L189.99,706.94 L190.24,707.91 L190.49,708.89 L190.74,709.86 L190.99,710.83 L191.23,711.81 L191.48,712.78 L191.73,713.76 L191.97,714.73 L192.22,715.71 L192.46,716.68 L192.70,717.66 L192.93,718.63 L193.17,719.61 L193.40,720.59 L193.64,721.56 L193.88,722.54 L194.11,723.52 L194.35,724.50 L194.58,725.47 L194.81,726.45 L195.04,727.43 L195.27,728.41 L195.50,729.39 L195.72,730.37 L195.94,731.35 L196.16,732.33 L196.37,733.31 L196.58,734.29 L196.79,735.28 L196.99,736.26 L197.19,737.25 L197.38,738.23 L197.55,739.22 L197.73,740.21 L197.90,741.20 L198.07,742.19 L198.25,743.18 L198.43,744.17 L198.61,745.16 L198.81,746.14 L199.01,747.13 L199.22,748.11 L199.43,749.09 L199.65,750.07 L199.87,751.05 L200.09,752.03 L200.32,753.01 L200.55,753.99 L200.78,754.97 L201.01,755.94 L201.25,756.92 L201.48,757.90 L201.72,758.88 L201.95,759.85 L202.19,760.83 L202.42,761.81 L202.66,762.79 L202.89,763.76 L203.12,764.74 L203.35,765.72 L203.58,766.70 L203.80,767.68 L204.02,768.66 L204.25,769.64 L204.47,770.62 L204.69,771.60 L204.91,772.58 L205.13,773.56 L205.35,774.54 L205.58,775.52 L205.80,776.50 L206.02,777.48 L206.24,778.46 L206.46,779.44 L206.68,780.42 L206.90,781.40 L207.12,782.38 L207.34,783.36 L207.56,784.35 L207.78,785.33 L208.00,786.31 L208.22,787.29 L208.45,788.27 L208.67,789.25 L208.89,790.22 L209.12,791.20 L209.35,792.18 L209.57,793.16 L209.80,794.14 L210.03,795.12 L210.26,796.10 L210.49,797.08 L210.72,798.05 L210.94,799.03 L211.17,800.01 L211.40,800.99 L211.64,801.97 L211.87,802.95 L212.10,803.92 L212.33,804.90 L212.56,805.88 L212.79,806.86 L213.03,807.83 L213.26,808.81 L213.50,809.79 L213.73,810.77 L213.97,811.74 L214.20,812.72 L214.44,813.70 L214.68,814.67 L214.92,815.65 L215.16,816.63 L215.40,817.60 L215.64,818.58 L215.88,819.55 L216.12,820.53 L216.37,821.50 L216.61,822.47 L216.86,823.45 L217.11,824.42 L217.36,825.40 L217.61,826.37 L217.86,827.34 L218.11,828.32 L218.36,829.29 L218.61,830.26 L218.86,831.23 L219.12,832.21 L219.37,833.18 L219.63,834.15 L219.89,835.12 L220.14,836.09 L220.40,837.06 L220.66,838.03 L220.92,839.01 L221.19,839.98 L221.45,840.95 L221.71,841.92 L221.98,842.89 L222.24,843.85 L222.51,844.82 L222.77,845.79 L223.04,846.76 L223.31,847.73 L223.58,848.70 L223.85,849.66 L224.13,850.63 L224.40,851.60 L224.68,852.56 L224.95,853.53 L225.23,854.49 L225.52,855.46 L225.81,856.42 L226.11,857.38 L226.40,858.34 L226.70,859.30 L227.00,860.26 L227.30,861.22 L227.59,862.18 L227.88,863.14 L228.17,864.11 L228.45,865.07 L228.73,866.04 L229.00,867.00 L229.26,867.97 L229.52,868.95 L229.77,869.92 L230.01,870.90 L230.25,871.87 L230.48,872.85 L230.71,873.84 L230.94,874.82 L231.17,875.80 L231.39,876.78 L231.62,877.76 L231.84,878.75 L232.07,879.73 L232.30,880.71 L232.53,881.68 L232.77,882.66 L233.01,883.64 L233.26,884.61 L233.52,885.58 L233.78,886.55 L234.05,887.51 L234.33,888.47 L234.62,889.43 L234.91,890.38 L235.22,891.33 L235.54,892.28 L235.86,893.24 L236.19,894.19 L236.53,895.14 L236.88,896.09 L237.23,897.03 L237.60,897.98 L237.97,898.92 L238.34,899.85 L238.73,900.79 L239.12,901.72 L239.52,902.64 L239.92,903.57 L240.34,904.48 L240.75,905.39 L241.18,906.30 L241.61,907.20 L242.05,908.09 L242.49,908.99 L242.95,909.88 L243.42,910.78 L243.90,911.67 L244.39,912.56 L244.89,913.45 L245.40,914.33 L245.93,915.20 L246.47,916.06 L247.02,916.91 L247.58,917.75 L248.15,918.57 L248.74,919.38 L249.34,920.17 L249.95,920.94 L250.58,921.69 L251.24,922.45 L251.92,923.19 L252.62,923.92 L253.35,924.64 L254.09,925.35 L254.85,926.03 L255.62,926.69 L256.40,927.33 L257.20,927.93 L258.00,928.50 L258.82,929.05 L259.66,929.58 L260.51,930.09 L261.39,930.58 L262.28,931.05 L263.19,931.51 L264.11,931.94 L265.05,932.34 L266.00,932.73" fill="none" stroke="#ff0000" stroke-width="3.3" stroke-linecap="round" stroke-linejoin="round" stroke-dasharray="0.4,5.4" stroke-dashoffset="0"/>
<path d="M144.00,599.98 L144.87,600.53 L145.71,601.11 L146.52,601.72 L147.30,602.36 L148.04,603.03 L148.73,603.72 L149.40,604.44 L150.07,605.19 L150.74,605.99 L151.39,606.81 L151.99,607.66 L152.53,608.53 L152.99,609.41 L153.34,610.30 L153.60,611.20 L153.84,612.12 L154.06,613.07 L154.27,614.03 L154.46,615.00 L154.64,615.99 L154.80,616.99 L154.96,618.00 L155.10,619.02 L155.23,620.04 L155.36,621.06 L155.48,622.08 L155.59,623.10 L155.70,624.12 L155.81,625.12 L155.91,626.12 L156.01,627.12 L156.10,628.12 L156.18,629.12 L156.25,630.12 L156.33,631.12 L156.39,632.12 L156.46,633.12 L156.53,634.12 L156.60,635.13 L156.68,636.13 L156.76,637.13 L156.84,638.13 L156.94,639.12 L157.05,640.12 L157.17,641.11 L157.29,642.11 L157.43,643.10 L157.56,644.10 L157.71,645.09 L157.85,646.08 L158.00,647.08 L158.15,648.07 L158.30,649.06 L158.44,650.05 L158.58,651.05 L158.72,652.04 L158.85,653.04 L158.98,654.03 L159.10,655.03 L159.22,656.02 L159.33,657.02 L159.44,658.02 L159.56,659.01 L159.67,660.01 L159.77,661.01 L159.88,662.01 L159.99,663.00 L160.09,664.00 L160.20,665.00 L160.30,666.00 L160.40,666.99 L160.50,667.99 L160.60,668.99 L160.69,669.99 L160.79,670.99 L160.88,671.99 L160.97,672.99 L161.07,673.98 L161.16,674.98 L161.25,675.98 L161.34,676.98 L161.43,677.98 L161.53,678.98 L161.62,679.98 L161.72,680.98 L161.82,681.97 L161.92,682.97 L162.02,683.97 L162.12,684.97 L162.22,685.97 L162.32,686.96 L162.43,687.96 L162.53,688.96 L162.64,689.96 L162.74,690.95 L162.85,691.95 L162.96,692.95 L163.06,693.95 L163.17,694.94 L163.28,695.94 L163.39,696.94 L163.51,697.93 L163.62,698.93 L163.74,699.93 L163.85,700.92 L163.97,701.92 L164.09,702.92 L164.20,703.91 L164.32,704.91 L164.44,705.90 L164.55,706.90 L164.67,707.90 L164.78,708.89 L164.89,709.89 L165.00,710.89 L165.10,711.89 L165.20,712.88 L165.30,713.88 L165.40,714.88 L165.50,715.88 L165.60,716.88 L165.70,717.88 L165.81,718.87 L165.91,719.87 L166.02,720.87 L166.12,721.87 L166.24,722.86 L166.35,723.86 L166.47,724.85 L166.60,725.85 L166.72,726.84 L166.85,727.84 L166.97,728.84 L167.11,729.83 L167.24,730.82 L167.37,731.82 L167.51,732.81 L167.65,733.81 L167.80,734.80 L167.94,735.79 L168.09,736.78 L168.24,737.77 L168.40,738.76 L168.58,739.75 L168.76,740.74 L168.95,741.73 L169.14,742.71 L169.33,743.70 L169.52,744.68 L169.71,745.67 L169.89,746.66 L170.06,747.65 L170.22,748.63 L170.37,749.62 L170.50,750.62 L170.62,751.61 L170.73,752.61 L170.82,753.61 L170.91,754.61 L171.00,755.61 L171.08,756.61 L171.16,757.61 L171.23,758.61 L171.31,759.62 L171.40,760.62 L171.49,761.62 L171.58,762.61 L171.69,763.61 L171.80,764.60 L171.93,765.59 L172.08,766.58 L172.26,767.57 L172.46,768.55 L172.68,769.53 L172.91,770.51 L173.15,771.49 L173.39,772.46 L173.63,773.44 L173.87,774.42 L174.09,775.40 L174.29,776.38 L174.48,777.37 L174.64,778.35 L174.77,779.34 L174.89,780.34 L174.99,781.33 L175.08,782.33 L175.17,783.33 L175.25,784.34 L175.33,785.34 L175.41,786.34 L175.48,787.34 L175.56,788.35 L175.65,789.35 L175.74,790.35 L175.84,791.34 L175.94,792.34 L176.06,793.33 L176.20,794.32 L176.37,795.31 L176.55,796.29 L176.75,797.27 L176.97,798.25 L177.20,799.23 L177.44,800.21 L177.68,801.18 L177.92,802.16 L178.15,803.14 L178.38,804.12 L178.60,805.10 L178.80,806.08 L178.99,807.07 L179.16,808.05 L179.33,809.04 L179.49,810.03 L179.64,811.03 L179.79,812.02 L179.94,813.01 L180.09,814.01 L180.24,815.00 L180.39,815.99 L180.55,816.98 L180.71,817.97 L180.88,818.96 L181.06,819.94 L181.25,820.93 L181.45,821.91 L181.67,822.88 L181.90,823.86 L182.15,824.83 L182.40,825.80 L182.66,826.77 L182.93,827.74 L183.20,828.70 L183.47,829.67 L183.74,830.64 L184.00,831.61 L184.26,832.58 L184.51,833.55 L184.75,834.52 L184.99,835.50 L185.21,836.48 L185.43,837.46 L185.65,838.44 L185.87,839.42 L186.08,840.40 L186.30,841.39 L186.52,842.37 L186.74,843.34 L186.97,844.32 L187.20,845.30 L187.44,846.27 L187.69,847.24 L187.96,848.20 L188.23,849.16 L188.53,850.12 L188.83,851.07 L189.15,852.02 L189.49,852.96 L189.83,853.91 L190.17,854.85 L190.53,855.79 L190.89,856.73 L191.25,857.67 L191.61,858.61 L191.96,859.55 L192.32,860.49 L192.67,861.42 L193.02,862.36 L193.38,863.30 L193.73,864.24 L194.08,865.18 L194.44,866.12 L194.80,867.06 L195.16,867.99 L195.53,868.93 L195.90,869.86 L196.27,870.79 L196.64,871.72 L197.02,872.65 L197.40,873.58 L197.79,874.50 L198.18,875.43 L198.58,876.35 L198.98,877.27 L199.38,878.19 L199.78,879.10 L200.19,880.02 L200.61,880.94 L201.02,881.85 L201.44,882.76 L201.87,883.67 L202.30,884.58 L202.73,885.49 L203.17,886.39 L203.62,887.29 L204.07,888.18 L204.52,889.08 L204.98,889.96 L205.45,890.85 L205.92,891.73 L206.40,892.62 L206.88,893.49 L207.37,894.37 L207.87,895.24 L208.38,896.11 L208.89,896.98 L209.40,897.84 L209.92,898.70 L210.45,899.56 L210.98,900.41 L211.52,901.25 L212.06,902.09 L212.60,902.94 L213.15,903.79 L213.70,904.64 L214.26,905.49 L214.82,906.34 L215.39,907.18 L215.98,908.00 L216.58,908.81 L217.20,909.59 L217.83,910.35 L218.49,911.08 L219.17,911.77 L219.89,912.44 L220.64,913.08 L221.42,913.71 L222.21,914.32 L223.03,914.92 L223.86,915.51 L224.69,916.10 L225.52,916.68 L226.35,917.27 L227.17,917.86 L227.98,918.46 L228.77,919.07 L229.57,919.69 L230.36,920.32 L231.15,920.96 L231.93,921.59 L232.72,922.22 L233.52,922.84 L234.31,923.46 L235.12,924.07 L235.92,924.66 L236.74,925.24 L237.57,925.79 L238.40,926.32 L239.25,926.83 L240.11,927.32 L240.98,927.80 L241.85,928.27 L242.74,928.74 L243.63,929.19 L244.53,929.63 L245.44,930.06 L246.35,930.48 L247.28,930.89 L248.21,931.28 L249.14,931.66 L250.09,932.03 L251.04,932.38 L252.00,932.73" fill="none" stroke="#ff0000" stroke-width="3.3" stroke-linecap="round" stroke-linejoin="round" stroke-dasharray="12.2,15.8" stroke-dashoffset="-3.5"/>
<path d="M150.00,599.98 L150.74,600.71 L151.46,601.46 L152.15,602.23 L152.79,603.02 L153.36,603.83 L153.84,604.66 L154.23,605.52 L154.58,606.42 L154.90,607.33 L155.20,608.27 L155.47,609.24 L155.73,610.21 L155.97,611.20 L156.20,612.20 L156.42,613.21 L156.65,614.21 L156.87,615.22 L157.10,616.22 L157.34,617.21 L157.60,618.18 L157.86,619.15 L158.12,620.12 L158.38,621.09 L158.65,622.06 L158.91,623.03 L159.17,624.00 L159.43,624.97 L159.70,625.94 L159.96,626.91 L160.22,627.88 L160.48,628.85 L160.74,629.82 L161.00,630.79 L161.26,631.76 L161.52,632.73 L161.78,633.70 L162.04,634.67 L162.30,635.64 L162.56,636.61 L162.82,637.58 L163.08,638.55 L163.35,639.52 L163.61,640.49 L163.88,641.46 L164.14,642.43 L164.40,643.40 L164.66,644.37 L164.91,645.34 L165.16,646.31 L165.41,647.28 L165.65,648.26 L165.89,649.23 L166.12,650.21 L166.34,651.19 L166.56,652.17 L166.78,653.15 L166.99,654.13 L167.20,655.11 L167.41,656.09 L167.61,657.08 L167.82,658.06 L168.01,659.05 L168.21,660.03 L168.40,661.02 L168.59,662.01 L168.78,662.99 L168.96,663.98 L169.14,664.97 L169.31,665.96 L169.49,666.95 L169.66,667.94 L169.82,668.93 L169.98,669.92 L170.14,670.91 L170.30,671.90 L170.45,672.89 L170.60,673.89 L170.75,674.88 L170.89,675.87 L171.04,676.87 L171.18,677.86 L171.32,678.86 L171.47,679.85 L171.61,680.85 L171.75,681.84 L171.89,682.84 L172.03,683.83 L172.18,684.82 L172.32,685.82 L172.46,686.81 L172.61,687.81 L172.75,688.80 L172.90,689.79 L173.04,690.79 L173.18,691.78 L173.32,692.78 L173.46,693.77 L173.60,694.77 L173.74,695.76 L173.88,696.76 L174.01,697.75 L174.15,698.75 L174.28,699.74 L174.40,700.74 L174.53,701.73 L174.65,702.73 L174.77,703.73 L174.89,704.73 L175.00,705.72 L175.12,706.72 L175.23,707.72 L175.34,708.72 L175.45,709.72 L175.56,710.71 L175.66,711.71 L175.77,712.71 L175.88,713.71 L176.00,714.71 L176.11,715.71 L176.22,716.70 L176.34,717.70 L176.46,718.70 L176.58,719.70 L176.71,720.69 L176.83,721.69 L176.96,722.68 L177.09,723.68 L177.22,724.68 L177.35,725.67 L177.48,726.67 L177.61,727.66 L177.74,728.66 L177.87,729.66 L178.00,730.65 L178.12,731.65 L178.25,732.65 L178.37,733.64 L178.49,734.64 L178.61,735.64 L178.73,736.63 L178.85,737.63 L178.96,738.63 L179.07,739.63 L179.19,740.62 L179.30,741.62 L179.41,742.62 L179.52,743.62 L179.63,744.62 L179.75,745.61 L179.86,746.61 L179.97,747.61 L180.09,748.61 L180.20,749.61 L180.32,750.60 L180.44,751.60 L180.56,752.60 L180.68,753.60 L180.80,754.59 L180.93,755.59 L181.06,756.58 L181.18,757.58 L181.31,758.58 L181.44,759.57 L181.56,760.57 L181.69,761.57 L181.82,762.56 L181.94,763.56 L182.07,764.56 L182.19,765.55 L182.31,766.55 L182.42,767.55 L182.54,768.54 L182.65,769.54 L182.76,770.54 L182.87,771.54 L182.97,772.54 L183.08,773.54 L183.18,774.54 L183.28,775.54 L183.38,776.53 L183.48,777.53 L183.58,778.53 L183.69,779.53 L183.79,780.53 L183.90,781.53 L184.00,782.53 L184.11,783.53 L184.22,784.53 L184.34,785.52 L184.45,786.52 L184.57,787.52 L184.70,788.51 L184.82,789.51 L184.95,790.51 L185.07,791.50 L185.20,792.50 L185.33,793.50 L185.46,794.49 L185.59,795.49 L185.72,796.48 L185.85,797.48 L185.98,798.48 L186.11,799.47 L186.23,800.47 L186.36,801.46 L186.48,802.46 L186.60,803.46 L186.72,804.46 L186.84,805.45 L186.96,806.45 L187.08,807.45 L187.20,808.44 L187.31,809.44 L187.43,810.44 L187.55,811.44 L187.67,812.43 L187.79,813.43 L187.91,814.43 L188.03,815.43 L188.15,816.42 L188.28,817.42 L188.40,818.42 L188.53,819.41 L188.66,820.41 L188.80,821.40 L188.94,822.40 L189.08,823.39 L189.22,824.39 L189.36,825.38 L189.50,826.37 L189.64,827.37 L189.78,828.36 L189.92,829.36 L190.06,830.35 L190.20,831.35 L190.33,832.34 L190.46,833.34 L190.58,834.34 L190.70,835.33 L190.82,836.33 L190.93,837.33 L191.03,838.33 L191.14,839.33 L191.23,840.33 L191.33,841.33 L191.43,842.33 L191.52,843.33 L191.62,844.33 L191.72,845.33 L191.82,846.33 L191.92,847.33 L192.03,848.32 L192.14,849.32 L192.25,850.32 L192.38,851.31 L192.51,852.31 L192.64,853.30 L192.78,854.30 L192.93,855.29 L193.08,856.28 L193.23,857.28 L193.39,858.27 L193.55,859.26 L193.72,860.25 L193.89,861.24 L194.06,862.23 L194.23,863.22 L194.41,864.21 L194.59,865.20 L194.77,866.19 L194.95,867.18 L195.14,868.16 L195.32,869.15 L195.51,870.14 L195.70,871.12 L195.90,872.11 L196.10,873.09 L196.30,874.08 L196.50,875.06 L196.71,876.04 L196.93,877.03 L197.14,878.01 L197.36,878.99 L197.58,879.97 L197.81,880.95 L198.03,881.92 L198.27,882.90 L198.50,883.88 L198.74,884.85 L198.98,885.83 L199.22,886.80 L199.47,887.77 L199.72,888.75 L199.98,889.72 L200.24,890.69 L200.50,891.66 L200.77,892.63 L201.05,893.60 L201.33,894.56 L201.61,895.53 L201.90,896.49 L202.19,897.45 L202.49,898.41 L202.79,899.36 L203.10,900.32 L203.42,901.27 L203.74,902.22 L204.06,903.18 L204.39,904.13 L204.73,905.09 L205.08,906.04 L205.43,906.98 L205.79,907.92 L206.17,908.86 L206.55,909.79 L206.94,910.71 L207.35,911.62 L207.77,912.52 L208.20,913.41 L208.66,914.30 L209.13,915.19 L209.62,916.07 L210.12,916.95 L210.65,917.82 L211.19,918.68 L211.74,919.53 L212.30,920.37 L212.88,921.20 L213.47,922.02 L214.07,922.82 L214.68,923.60 L215.30,924.37 L215.94,925.12 L216.59,925.87 L217.26,926.60 L217.95,927.33 L218.65,928.04 L219.37,928.75 L220.11,929.44 L220.86,930.12 L221.63,930.79 L222.40,931.45 L223.20,932.09 L224.00,932.73" fill="none" stroke="#ff0000" stroke-width="3.3" stroke-linecap="round" stroke-linejoin="round" stroke-dasharray="1.6,15.2" stroke-dashoffset="-3.8"/>
<path d="M158.00,599.98 L158.83,600.63 L159.67,601.30 L160.50,601.99 L161.27,602.69 L161.96,603.42 L162.54,604.17 L162.98,604.95 L163.31,605.76 L163.63,606.60 L163.92,607.47 L164.19,608.36 L164.44,609.27 L164.68,610.20 L164.90,611.15 L165.11,612.11 L165.30,613.09 L165.48,614.09 L165.66,615.10 L165.82,616.11 L165.98,617.14 L166.14,618.17 L166.28,619.21 L166.43,620.25 L166.58,621.30 L166.73,622.34 L166.87,623.39 L167.03,624.43 L167.19,625.47 L167.35,626.50 L167.52,627.52 L167.70,628.54 L167.89,629.54 L168.10,630.54 L168.32,631.52 L168.55,632.50 L168.80,633.47 L169.06,634.44 L169.32,635.42 L169.59,636.39 L169.86,637.36 L170.13,638.33 L170.40,639.30 L170.66,640.27 L170.91,641.24 L171.15,642.22 L171.38,643.19 L171.59,644.17 L171.78,645.15 L171.94,646.14 L172.09,647.13 L172.21,648.12 L172.32,649.12 L172.42,650.12 L172.51,651.12 L172.60,652.12 L172.70,653.13 L172.81,654.12 L172.93,655.12 L173.08,656.11 L173.24,657.10 L173.42,658.08 L173.61,659.07 L173.82,660.05 L174.04,661.03 L174.26,662.01 L174.49,662.99 L174.72,663.97 L174.96,664.95 L175.18,665.93 L175.41,666.91 L175.65,667.88 L175.90,668.85 L176.15,669.83 L176.41,670.80 L176.67,671.77 L176.93,672.74 L177.19,673.71 L177.45,674.68 L177.71,675.65 L177.96,676.62 L178.21,677.59 L178.46,678.56 L178.69,679.54 L178.92,680.52 L179.14,681.49 L179.37,682.47 L179.58,683.45 L179.80,684.43 L180.01,685.41 L180.23,686.39 L180.44,687.38 L180.64,688.36 L180.85,689.34 L181.05,690.32 L181.26,691.31 L181.46,692.29 L181.66,693.27 L181.86,694.26 L182.06,695.24 L182.25,696.23 L182.45,697.21 L182.65,698.20 L182.84,699.18 L183.04,700.17 L183.23,701.15 L183.43,702.14 L183.62,703.12 L183.82,704.11 L184.01,705.09 L184.21,706.08 L184.41,707.06 L184.61,708.05 L184.80,709.03 L185.00,710.02 L185.20,711.00 L185.41,711.98 L185.62,712.97 L185.82,713.95 L186.03,714.93 L186.24,715.91 L186.46,716.90 L186.67,717.88 L186.88,718.86 L187.10,719.84 L187.31,720.83 L187.52,721.81 L187.74,722.79 L187.95,723.77 L188.16,724.76 L188.37,725.74 L188.57,726.72 L188.78,727.71 L188.98,728.69 L189.18,729.67 L189.37,730.66 L189.56,731.64 L189.75,732.63 L189.93,733.62 L190.11,734.60 L190.29,735.59 L190.46,736.58 L190.62,737.57 L190.78,738.56 L190.93,739.55 L191.08,740.54 L191.22,741.53 L191.35,742.53 L191.48,743.52 L191.60,744.52 L191.72,745.52 L191.83,746.51 L191.95,747.51 L192.06,748.51 L192.18,749.51 L192.30,750.51 L192.43,751.50 L192.55,752.50 L192.67,753.50 L192.79,754.49 L192.91,755.49 L193.02,756.49 L193.14,757.49 L193.26,758.48 L193.38,759.48 L193.49,760.48 L193.61,761.48 L193.73,762.47 L193.86,763.47 L193.98,764.47 L194.11,765.46 L194.24,766.46 L194.38,767.45 L194.52,768.45 L194.66,769.44 L194.81,770.43 L194.97,771.42 L195.14,772.41 L195.32,773.39 L195.51,774.38 L195.71,775.36 L195.92,776.35 L196.13,777.33 L196.34,778.31 L196.56,779.29 L196.77,780.28 L196.99,781.26 L197.19,782.24 L197.39,783.23 L197.59,784.21 L197.77,785.20 L197.93,786.19 L198.09,787.18 L198.23,788.17 L198.37,789.16 L198.51,790.16 L198.63,791.15 L198.76,792.15 L198.88,793.14 L198.99,794.14 L199.11,795.14 L199.22,796.14 L199.33,797.14 L199.44,798.14 L199.56,799.14 L199.67,800.13 L199.79,801.13 L199.91,802.13 L200.04,803.12 L200.17,804.12 L200.31,805.11 L200.46,806.11 L200.61,807.10 L200.77,808.09 L200.95,809.07 L201.13,810.06 L201.31,811.05 L201.51,812.03 L201.70,813.02 L201.90,814.00 L202.10,814.99 L202.30,815.97 L202.49,816.96 L202.69,817.95 L202.88,818.93 L203.06,819.92 L203.23,820.91 L203.40,821.90 L203.56,822.89 L203.71,823.88 L203.87,824.87 L204.01,825.86 L204.16,826.86 L204.30,827.85 L204.44,828.84 L204.58,829.84 L204.72,830.83 L204.86,831.83 L204.99,832.82 L205.13,833.82 L205.27,834.81 L205.40,835.81 L205.54,836.80 L205.68,837.80 L205.82,838.79 L205.97,839.78 L206.11,840.78 L206.26,841.77 L206.41,842.76 L206.56,843.76 L206.70,844.75 L206.85,845.74 L207.00,846.74 L207.15,847.73 L207.30,848.72 L207.45,849.71 L207.60,850.71 L207.75,851.70 L207.90,852.69 L208.05,853.69 L208.20,854.68 L208.35,855.67 L208.50,856.66 L208.65,857.66 L208.80,858.65 L208.95,859.64 L209.10,860.64 L209.24,861.63 L209.39,862.62 L209.54,863.61 L209.69,864.61 L209.84,865.60 L209.99,866.59 L210.14,867.59 L210.29,868.58 L210.44,869.57 L210.58,870.56 L210.73,871.56 L210.88,872.55 L211.03,873.54 L211.18,874.54 L211.33,875.53 L211.48,876.52 L211.63,877.51 L211.78,878.51 L211.92,879.50 L212.07,880.49 L212.22,881.49 L212.36,882.48 L212.50,883.48 L212.64,884.47 L212.77,885.47 L212.91,886.47 L213.04,887.46 L213.18,888.46 L213.31,889.46 L213.45,890.45 L213.59,891.45 L213.74,892.44 L213.88,893.44 L214.04,894.43 L214.19,895.42 L214.35,896.41 L214.52,897.40 L214.70,898.38 L214.88,899.36 L215.07,900.35 L215.27,901.33 L215.47,902.32 L215.68,903.30 L215.90,904.29 L216.13,905.28 L216.37,906.26 L216.62,907.24 L216.87,908.22 L217.14,909.20 L217.42,910.17 L217.70,911.13 L218.00,912.08 L218.31,913.03 L218.63,913.97 L218.96,914.90 L219.31,915.82 L219.69,916.75 L220.09,917.69 L220.51,918.62 L220.96,919.55 L221.43,920.46 L221.92,921.37 L222.43,922.25 L222.96,923.12 L223.51,923.96 L224.07,924.77 L224.65,925.56 L225.25,926.30 L225.88,927.03 L226.55,927.74 L227.26,928.43 L227.99,929.10 L228.76,929.76 L229.56,930.39 L230.39,931.01 L231.24,931.60 L232.11,932.17 L233.00,932.73" fill="none" stroke="#ff0000" stroke-width="3.3" stroke-linecap="round" stroke-linejoin="round" stroke-dasharray="14.0,9.8,1.4,9.8" stroke-dashoffset="0"/>
<path d="M160.40,599.98 L160.60,601.03 L160.84,602.07 L161.12,603.08 L161.44,604.07 L161.79,605.04 L162.17,605.99 L162.57,606.92 L163.00,607.82 L163.46,608.71 L163.93,609.57 L164.41,610.42 L164.91,611.24 L165.43,612.04 L166.04,612.80 L166.81,613.50 L167.66,614.18 L168.54,614.84 L169.38,615.50 L170.12,616.19 L170.70,616.91 L171.07,617.70 L171.35,618.53 L171.60,619.39 L171.83,620.28 L172.04,621.20 L172.23,622.14 L172.40,623.11 L172.56,624.10 L172.71,625.10 L172.85,626.12 L172.98,627.15 L173.11,628.19 L173.23,629.24 L173.35,630.29 L173.47,631.35 L173.59,632.40 L173.71,633.45 L173.85,634.50 L173.99,635.54 L174.14,636.57 L174.30,637.58 L174.48,638.58 L174.67,639.56 L174.88,640.55 L175.09,641.53 L175.31,642.51 L175.54,643.49 L175.78,644.47 L176.01,645.45 L176.24,646.43 L176.47,647.41 L176.69,648.39 L176.90,649.38 L177.10,650.36 L177.29,651.35 L177.46,652.34 L177.62,653.33 L177.77,654.32 L177.92,655.31 L178.06,656.31 L178.19,657.31 L178.33,658.31 L178.46,659.30 L178.58,660.30 L178.71,661.30 L178.84,662.30 L178.96,663.29 L179.09,664.29 L179.21,665.29 L179.34,666.29 L179.46,667.29 L179.58,668.28 L179.70,669.28 L179.82,670.28 L179.93,671.28 L180.05,672.28 L180.16,673.28 L180.28,674.28 L180.39,675.28 L180.50,676.28 L180.62,677.27 L180.73,678.27 L180.84,679.27 L180.95,680.27 L181.06,681.27 L181.17,682.27 L181.28,683.27 L181.39,684.27 L181.49,685.27 L181.60,686.27 L181.71,687.27 L181.82,688.27 L181.92,689.27 L182.03,690.27 L182.14,691.27 L182.24,692.27 L182.35,693.27 L182.46,694.27 L182.56,695.27 L182.67,696.27 L182.78,697.27 L182.88,698.27 L182.99,699.27 L183.09,700.27 L183.20,701.27 L183.30,702.27 L183.40,703.27 L183.51,704.27 L183.61,705.27 L183.71,706.27 L183.81,707.27 L183.91,708.28 L184.01,709.28 L184.11,710.28 L184.21,711.28 L184.30,712.28 L184.40,713.28 L184.49,714.28 L184.58,715.28 L184.67,716.28 L184.76,717.29 L184.85,718.29 L184.94,719.29 L185.02,720.29 L185.11,721.29 L185.19,722.29 L185.27,723.30 L185.35,724.30 L185.43,725.30 L185.51,726.30 L185.59,727.31 L185.66,728.31 L185.74,729.31 L185.81,730.31 L185.89,731.32 L185.96,732.32 L186.03,733.32 L186.10,734.33 L186.17,735.33 L186.25,736.33 L186.32,737.34 L186.39,738.34 L186.46,739.34 L186.53,740.35 L186.60,741.35 L186.67,742.35 L186.74,743.35 L186.81,744.36 L186.88,745.36 L186.95,746.36 L187.03,747.37 L187.10,748.37 L187.17,749.37 L187.24,750.38 L187.32,751.38 L187.39,752.38 L187.46,753.38 L187.53,754.39 L187.60,755.39 L187.67,756.39 L187.74,757.40 L187.80,758.40 L187.86,759.41 L187.92,760.41 L187.97,761.41 L188.02,762.42 L188.07,763.42 L188.12,764.43 L188.17,765.43 L188.23,766.44 L188.29,767.44 L188.36,768.44 L188.44,769.44 L188.52,770.44 L188.63,771.44 L188.74,772.44 L188.86,773.44 L188.98,774.44 L189.11,775.44 L189.24,776.44 L189.37,777.43 L189.50,778.43 L189.62,779.43 L189.74,780.43 L189.85,781.43 L189.95,782.43 L190.06,783.43 L190.16,784.43 L190.26,785.43 L190.36,786.43 L190.46,787.43 L190.56,788.43 L190.65,789.43 L190.74,790.43 L190.82,791.44 L190.91,792.44 L190.99,793.44 L191.07,794.44 L191.14,795.45 L191.22,796.45 L191.30,797.45 L191.37,798.45 L191.45,799.46 L191.53,800.46 L191.60,801.46 L191.68,802.47 L191.76,803.47 L191.83,804.47 L191.90,805.48 L191.97,806.48 L192.05,807.48 L192.13,808.49 L192.22,809.49 L192.31,810.49 L192.42,811.48 L192.55,812.48 L192.71,813.47 L192.88,814.46 L193.08,815.45 L193.28,816.44 L193.48,817.43 L193.69,818.41 L193.89,819.40 L194.07,820.39 L194.24,821.38 L194.39,822.37 L194.51,823.37 L194.60,824.37 L194.69,825.37 L194.77,826.37 L194.84,827.37 L194.91,828.38 L194.97,829.38 L195.04,830.39 L195.11,831.39 L195.19,832.39 L195.27,833.40 L195.36,834.40 L195.45,835.40 L195.53,836.40 L195.62,837.40 L195.72,838.41 L195.81,839.41 L195.90,840.41 L196.00,841.41 L196.09,842.41 L196.19,843.41 L196.29,844.41 L196.39,845.41 L196.49,846.41 L196.59,847.41 L196.69,848.42 L196.80,849.42 L196.90,850.42 L197.02,851.42 L197.14,852.41 L197.26,853.41 L197.40,854.40 L197.55,855.40 L197.72,856.39 L197.90,857.38 L198.09,858.37 L198.28,859.36 L198.47,860.34 L198.66,861.33 L198.85,862.32 L199.03,863.31 L199.19,864.30 L199.34,865.30 L199.48,866.29 L199.60,867.29 L199.71,868.29 L199.82,869.29 L199.92,870.29 L200.02,871.29 L200.12,872.29 L200.23,873.29 L200.35,874.29 L200.47,875.29 L200.61,876.28 L200.75,877.28 L200.89,878.27 L201.04,879.27 L201.20,880.26 L201.36,881.25 L201.53,882.25 L201.69,883.24 L201.87,884.23 L202.05,885.22 L202.23,886.21 L202.41,887.20 L202.60,888.19 L202.79,889.18 L202.99,890.17 L203.19,891.15 L203.39,892.14 L203.60,893.12 L203.81,894.10 L204.02,895.08 L204.23,896.07 L204.45,897.05 L204.67,898.03 L204.90,899.02 L205.13,900.00 L205.37,900.99 L205.61,901.97 L205.86,902.95 L206.12,903.93 L206.39,904.90 L206.67,905.86 L206.96,906.83 L207.25,907.78 L207.56,908.73 L207.88,909.67 L208.22,910.60 L208.58,911.53 L208.96,912.46 L209.36,913.38 L209.79,914.30 L210.23,915.21 L210.68,916.12 L211.15,917.02 L211.63,917.91 L212.13,918.80 L212.63,919.68 L213.13,920.55 L213.64,921.41 L214.16,922.26 L214.68,923.10 L215.22,923.94 L215.78,924.78 L216.35,925.60 L216.93,926.42 L217.52,927.23 L218.13,928.04 L218.74,928.84 L219.37,929.63 L220.01,930.41 L220.67,931.19 L221.33,931.96 L222.00,932.73" fill="none" stroke="#ff0000" stroke-width="3.3" stroke-linecap="round" stroke-linejoin="round" stroke-dasharray="11.0,9.6,1.4,9.4,1.4,9.6" stroke-dashoffset="0"/>
<line x1="119.80" y1="599.98" x2="188.69" y2="600.14" stroke="#ff0000" stroke-width="8.50" stroke-linecap="round"/>
<line x1="215.75" y1="932.66" x2="445.60" y2="932.73" stroke="#ff0000" stroke-width="8.50" stroke-linecap="round"/>
<g fill="#ff0000"><circle cx="188.83" cy="600.15" r="4.25"/><circle cx="189.15" cy="600.17" r="4.25"/><circle cx="189.47" cy="600.20" r="4.25"/><circle cx="189.79" cy="600.22" r="4.25"/><circle cx="190.11" cy="600.25" r="4.25"/><circle cx="190.43" cy="600.29" r="4.25"/><circle cx="190.75" cy="600.32" r="4.25"/><circle cx="191.07" cy="600.37" r="4.25"/><circle cx="191.39" cy="600.42" r="4.25"/><circle cx="191.71" cy="600.47" r="4.25"/><circle cx="192.03" cy="600.53" r="4.25"/><circle cx="192.35" cy="600.60" r="4.25"/><circle cx="192.67" cy="600.67" r="4.25"/><circle cx="192.99" cy="600.76" r="4.25"/><circle cx="193.31" cy="600.85" r="4.25"/><circle cx="193.63" cy="600.96" r="4.25"/><circle cx="193.95" cy="601.08" r="4.25"/><circle cx="194.27" cy="601.21" r="4.25"/><circle cx="194.59" cy="601.37" r="4.25"/><circle cx="194.91" cy="601.53" r="4.25"/><circle cx="195.23" cy="601.72" r="4.25"/><circle cx="195.55" cy="601.94" r="4.25"/><circle cx="195.87" cy="602.18" r="4.25"/><circle cx="196.19" cy="602.44" r="4.25"/><circle cx="196.51" cy="602.74" r="4.25"/><circle cx="196.83" cy="603.08" r="4.25"/><circle cx="197.15" cy="603.46" r="4.25"/><circle cx="197.47" cy="603.88" r="4.25"/><circle cx="197.79" cy="604.36" r="4.25"/><circle cx="198.11" cy="604.89" r="4.25"/><circle cx="198.43" cy="605.48" r="4.25"/><circle cx="198.75" cy="606.15" r="4.25"/><circle cx="199.07" cy="606.89" r="4.25"/><circle cx="199.39" cy="607.73" r="4.25"/><circle cx="199.71" cy="608.66" r="4.25"/><circle cx="200.03" cy="609.71" r="4.25"/><circle cx="200.35" cy="610.88" r="4.25"/><circle cx="200.67" cy="612.18" r="4.25"/><circle cx="200.99" cy="613.64" r="4.25"/><circle cx="201.31" cy="615.27" r="4.25"/><circle cx="201.63" cy="617.09" r="4.25"/><circle cx="201.95" cy="619.12" r="4.25"/><circle cx="202.27" cy="621.38" r="4.25"/><circle cx="202.59" cy="623.90" r="4.25"/><circle cx="202.91" cy="626.70" r="4.25"/><circle cx="203.23" cy="629.81" r="4.25"/><circle cx="203.55" cy="633.26" r="4.25"/><circle cx="203.87" cy="637.09" r="4.25"/><circle cx="204.19" cy="641.33" r="4.25"/><circle cx="204.51" cy="646.01" r="4.25"/><circle cx="204.83" cy="651.18" r="4.25"/><circle cx="205.15" cy="656.86" r="4.25"/><circle cx="205.47" cy="663.11" r="4.25"/><circle cx="205.79" cy="669.95" r="4.25"/><circle cx="206.11" cy="677.41" r="4.25"/><circle cx="206.43" cy="685.54" r="4.25"/><circle cx="206.75" cy="694.35" r="4.25"/><circle cx="207.07" cy="703.86" r="4.25"/><circle cx="207.39" cy="714.08" r="4.25"/><circle cx="207.71" cy="725.01" r="4.25"/><circle cx="208.03" cy="736.63" r="4.25"/><circle cx="208.35" cy="748.89" r="4.25"/><circle cx="208.67" cy="761.73" r="4.25"/><circle cx="208.99" cy="775.08" r="4.25"/><circle cx="209.31" cy="788.83" r="4.25"/><circle cx="209.63" cy="802.83" r="4.25"/><circle cx="209.95" cy="816.92" r="4.25"/><circle cx="210.27" cy="830.92" r="4.25"/><circle cx="210.59" cy="844.63" r="4.25"/><circle cx="210.91" cy="857.82" r="4.25"/><circle cx="211.23" cy="870.29" r="4.25"/><circle cx="211.55" cy="881.83" r="4.25"/><circle cx="211.87" cy="892.26" r="4.25"/><circle cx="212.19" cy="901.44" r="4.25"/><circle cx="212.51" cy="909.28" r="4.25"/><circle cx="212.83" cy="915.77" r="4.25"/><circle cx="213.15" cy="920.93" r="4.25"/><circle cx="213.47" cy="924.88" r="4.25"/><circle cx="213.79" cy="927.76" r="4.25"/><circle cx="214.11" cy="929.76" r="4.25"/><circle cx="214.43" cy="931.06" r="4.25"/><circle cx="214.75" cy="931.85" r="4.25"/><circle cx="215.07" cy="932.30" r="4.25"/><circle cx="215.39" cy="932.54" r="4.25"/><circle cx="215.71" cy="932.65" r="4.25"/></g>
</g>
<line x1="113.60" y1="457.70" x2="119.80" y2="457.70" stroke="#000" stroke-width="3.0" stroke-linecap="round"/>
<line x1="711.40" y1="457.70" x2="717.60" y2="457.70" stroke="#000" stroke-width="3.0" stroke-linecap="round"/>
<line x1="108.00" y1="424.43" x2="119.80" y2="424.43" stroke="#000" stroke-width="3.0" stroke-linecap="round"/>
<line x1="705.80" y1="424.43" x2="717.60" y2="424.43" stroke="#000" stroke-width="3.0" stroke-linecap="round"/>
<line x1="113.60" y1="391.17" x2="119.80" y2="391.17" stroke="#000" stroke-width="3.0" stroke-linecap="round"/>
<line x1="711.40" y1="391.17" x2="717.60" y2="391.17" stroke="#000" stroke-width="3.0" stroke-linecap="round"/>
<line x1="108.00" y1="357.90" x2="119.80" y2="357.90" stroke="#000" stroke-width="3.0" stroke-linecap="round"/>
<line x1="705.80" y1="357.90" x2="717.60" y2="357.90" stroke="#000" stroke-width="3.0" stroke-linecap="round"/>
<line x1="113.60" y1="324.63" x2="119.80" y2="324.63" stroke="#000" stroke-width="3.0" stroke-linecap="round"/>
<line x1="711.40" y1="324.63" x2="717.60" y2="324.63" stroke="#000" stroke-width="3.0" stroke-linecap="round"/>
<line x1="108.00" y1="291.37" x2="119.80" y2="291.37" stroke="#000" stroke-width="3.0" stroke-linecap="round"/>
<line x1="705.80" y1="291.37" x2="717.60" y2="291.37" stroke="#000" stroke-width="3.0" stroke-linecap="round"/>
<line x1="113.60" y1="258.10" x2="119.80" y2="258.10" stroke="#000" stroke-width="3.0" stroke-linecap="round"/>
<line x1="711.40" y1="258.10" x2="717.60" y2="258.10" stroke="#000" stroke-width="3.0" stroke-linecap="round"/>
<line x1="108.00" y1="224.83" x2="119.80" y2="224.83" stroke="#000" stroke-width="3.0" stroke-linecap="round"/>
<line x1="705.80" y1="224.83" x2="717.60" y2="224.83" stroke="#000" stroke-width="3.0" stroke-linecap="round"/>
<line x1="113.60" y1="191.57" x2="119.80" y2="191.57" stroke="#000" stroke-width="3.0" stroke-linecap="round"/>
<line x1="711.40" y1="191.57" x2="717.60" y2="191.57" stroke="#000" stroke-width="3.0" stroke-linecap="round"/>
<line x1="108.00" y1="158.30" x2="119.80" y2="158.30" stroke="#000" stroke-width="3.0" stroke-linecap="round"/>
<line x1="705.80" y1="158.30" x2="717.60" y2="158.30" stroke="#000" stroke-width="3.0" stroke-linecap="round"/>
<line x1="113.60" y1="125.03" x2="119.80" y2="125.03" stroke="#000" stroke-width="3.0" stroke-linecap="round"/>
<line x1="711.40" y1="125.03" x2="717.60" y2="125.03" stroke="#000" stroke-width="3.0" stroke-linecap="round"/>
<line x1="108.00" y1="91.77" x2="119.80" y2="91.77" stroke="#000" stroke-width="3.0" stroke-linecap="round"/>
<line x1="705.80" y1="91.77" x2="717.60" y2="91.77" stroke="#000" stroke-width="3.0" stroke-linecap="round"/>
<line x1="113.60" y1="58.50" x2="119.80" y2="58.50" stroke="#000" stroke-width="3.0" stroke-linecap="round"/>
<line x1="711.40" y1="58.50" x2="717.60" y2="58.50" stroke="#000" stroke-width="3.0" stroke-linecap="round"/>
<line x1="119.80" y1="58.50" x2="119.80" y2="457.70" stroke="#000" stroke-width="3.0" stroke-linecap="square"/>
<line x1="717.60" y1="58.50" x2="717.60" y2="457.70" stroke="#000" stroke-width="3.0" stroke-linecap="square"/>
<line x1="119.80" y1="58.50" x2="717.60" y2="58.50" stroke="#000" stroke-width="3.0" stroke-linecap="square"/>
<line x1="119.80" y1="457.70" x2="717.60" y2="457.70" stroke="#000" stroke-width="3.0" stroke-linecap="square"/>
<line x1="113.60" y1="966.00" x2="119.80" y2="966.00" stroke="#000" stroke-width="3.0" stroke-linecap="round"/>
<line x1="711.40" y1="966.00" x2="717.60" y2="966.00" stroke="#000" stroke-width="3.0" stroke-linecap="round"/>
<line x1="108.00" y1="932.73" x2="119.80" y2="932.73" stroke="#000" stroke-width="3.0" stroke-linecap="round"/>
<line x1="705.80" y1="932.73" x2="717.60" y2="932.73" stroke="#000" stroke-width="3.0" stroke-linecap="round"/>
<line x1="113.60" y1="899.45" x2="119.80" y2="899.45" stroke="#000" stroke-width="3.0" stroke-linecap="round"/>
<line x1="711.40" y1="899.45" x2="717.60" y2="899.45" stroke="#000" stroke-width="3.0" stroke-linecap="round"/>
<line x1="108.00" y1="866.17" x2="119.80" y2="866.17" stroke="#000" stroke-width="3.0" stroke-linecap="round"/>
<line x1="705.80" y1="866.17" x2="717.60" y2="866.17" stroke="#000" stroke-width="3.0" stroke-linecap="round"/>
<line x1="113.60" y1="832.90" x2="119.80" y2="832.90" stroke="#000" stroke-width="3.0" stroke-linecap="round"/>
<line x1="711.40" y1="832.90" x2="717.60" y2="832.90" stroke="#000" stroke-width="3.0" stroke-linecap="round"/>
<line x1="108.00" y1="799.62" x2="119.80" y2="799.62" stroke="#000" stroke-width="3.0" stroke-linecap="round"/>
<line x1="705.80" y1="799.62" x2="717.60" y2="799.62" stroke="#000" stroke-width="3.0" stroke-linecap="round"/>
<line x1="113.60" y1="766.35" x2="119.80" y2="766.35" stroke="#000" stroke-width="3.0" stroke-linecap="round"/>
<line x1="711.40" y1="766.35" x2="717.60" y2="766.35" stroke="#000" stroke-width="3.0" stroke-linecap="round"/>
<line x1="108.00" y1="733.08" x2="119.80" y2="733.08" stroke="#000" stroke-width="3.0" stroke-linecap="round"/>
<line x1="705.80" y1="733.08" x2="717.60" y2="733.08" stroke="#000" stroke-width="3.0" stroke-linecap="round"/>
<line x1="113.60" y1="699.80" x2="119.80" y2="699.80" stroke="#000" stroke-width="3.0" stroke-linecap="round"/>
<line x1="711.40" y1="699.80" x2="717.60" y2="699.80" stroke="#000" stroke-width="3.0" stroke-linecap="round"/>
<line x1="108.00" y1="666.53" x2="119.80" y2="666.53" stroke="#000" stroke-width="3.0" stroke-linecap="round"/>
<line x1="705.80" y1="666.53" x2="717.60" y2="666.53" stroke="#000" stroke-width="3.0" stroke-linecap="round"/>
<line x1="113.60" y1="633.25" x2="119.80" y2="633.25" stroke="#000" stroke-width="3.0" stroke-linecap="round"/>
<line x1="711.40" y1="633.25" x2="717.60" y2="633.25" stroke="#000" stroke-width="3.0" stroke-linecap="round"/>
<line x1="108.00" y1="599.98" x2="119.80" y2="599.98" stroke="#000" stroke-width="3.0" stroke-linecap="round"/>
<line x1="705.80" y1="599.98" x2="717.60" y2="599.98" stroke="#000" stroke-width="3.0" stroke-linecap="round"/>
<line x1="113.60" y1="566.70" x2="119.80" y2="566.70" stroke="#000" stroke-width="3.0" stroke-linecap="round"/>
<line x1="711.40" y1="566.70" x2="717.60" y2="566.70" stroke="#000" stroke-width="3.0" stroke-linecap="round"/>
<line x1="119.80" y1="566.70" x2="119.80" y2="966.00" stroke="#000" stroke-width="3.0" stroke-linecap="square"/>
<line x1="717.60" y1="566.70" x2="717.60" y2="966.00" stroke="#000" stroke-width="3.0" stroke-linecap="square"/>
<line x1="119.80" y1="566.70" x2="717.60" y2="566.70" stroke="#000" stroke-width="3.0" stroke-linecap="square"/>
<line x1="119.80" y1="966.00" x2="717.60" y2="966.00" stroke="#000" stroke-width="3.0" stroke-linecap="square"/>
<line x1="119.80" y1="58.50" x2="119.80" y2="70.30" stroke="#000" stroke-width="3.0" stroke-linecap="round"/>
<line x1="162.50" y1="58.50" x2="162.50" y2="64.70" stroke="#000" stroke-width="3.0" stroke-linecap="round"/>
<line x1="205.20" y1="58.50" x2="205.20" y2="70.30" stroke="#000" stroke-width="3.0" stroke-linecap="round"/>
<line x1="247.90" y1="58.50" x2="247.90" y2="64.70" stroke="#000" stroke-width="3.0" stroke-linecap="round"/>
<line x1="290.60" y1="58.50" x2="290.60" y2="70.30" stroke="#000" stroke-width="3.0" stroke-linecap="round"/>
<line x1="333.30" y1="58.50" x2="333.30" y2="64.70" stroke="#000" stroke-width="3.0" stroke-linecap="round"/>
<line x1="376.00" y1="58.50" x2="376.00" y2="70.30" stroke="#000" stroke-width="3.0" stroke-linecap="round"/>
<line x1="418.70" y1="58.50" x2="418.70" y2="64.70" stroke="#000" stroke-width="3.0" stroke-linecap="round"/>
<line x1="461.40" y1="58.50" x2="461.40" y2="70.30" stroke="#000" stroke-width="3.0" stroke-linecap="round"/>
<line x1="504.10" y1="58.50" x2="504.10" y2="64.70" stroke="#000" stroke-width="3.0" stroke-linecap="round"/>
<line x1="546.80" y1="58.50" x2="546.80" y2="70.30" stroke="#000" stroke-width="3.0" stroke-linecap="round"/>
<line x1="589.50" y1="58.50" x2="589.50" y2="64.70" stroke="#000" stroke-width="3.0" stroke-linecap="round"/>
<line x1="632.20" y1="58.50" x2="632.20" y2="70.30" stroke="#000" stroke-width="3.0" stroke-linecap="round"/>
<line x1="674.90" y1="58.50" x2="674.90" y2="64.70" stroke="#000" stroke-width="3.0" stroke-linecap="round"/>
<line x1="717.60" y1="58.50" x2="717.60" y2="70.30" stroke="#000" stroke-width="3.0" stroke-linecap="round"/>
<line x1="119.80" y1="457.70" x2="119.80" y2="469.50" stroke="#000" stroke-width="3.0" stroke-linecap="round"/>
<line x1="162.50" y1="457.70" x2="162.50" y2="463.90" stroke="#000" stroke-width="3.0" stroke-linecap="round"/>
<line x1="205.20" y1="457.70" x2="205.20" y2="469.50" stroke="#000" stroke-width="3.0" stroke-linecap="round"/>
<line x1="247.90" y1="457.70" x2="247.90" y2="463.90" stroke="#000" stroke-width="3.0" stroke-linecap="round"/>
<line x1="290.60" y1="457.70" x2="290.60" y2="469.50" stroke="#000" stroke-width="3.0" stroke-linecap="round"/>
<line x1="333.30" y1="457.70" x2="333.30" y2="463.90" stroke="#000" stroke-width="3.0" stroke-linecap="round"/>
<line x1="376.00" y1="457.70" x2="376.00" y2="469.50" stroke="#000" stroke-width="3.0" stroke-linecap="round"/>
<line x1="418.70" y1="457.70" x2="418.70" y2="463.90" stroke="#000" stroke-width="3.0" stroke-linecap="round"/>
<line x1="461.40" y1="457.70" x2="461.40" y2="469.50" stroke="#000" stroke-width="3.0" stroke-linecap="round"/>
<line x1="504.10" y1="457.70" x2="504.10" y2="463.90" stroke="#000" stroke-width="3.0" stroke-linecap="round"/>
<line x1="546.80" y1="457.70" x2="546.80" y2="469.50" stroke="#000" stroke-width="3.0" stroke-linecap="round"/>
<line x1="589.50" y1="457.70" x2="589.50" y2="463.90" stroke="#000" stroke-width="3.0" stroke-linecap="round"/>
<line x1="632.20" y1="457.70" x2="632.20" y2="469.50" stroke="#000" stroke-width="3.0" stroke-linecap="round"/>
<line x1="674.90" y1="457.70" x2="674.90" y2="463.90" stroke="#000" stroke-width="3.0" stroke-linecap="round"/>
<line x1="717.60" y1="457.70" x2="717.60" y2="469.50" stroke="#000" stroke-width="3.0" stroke-linecap="round"/>
<line x1="119.80" y1="566.70" x2="119.80" y2="578.50" stroke="#000" stroke-width="3.0" stroke-linecap="round"/>
<line x1="146.97" y1="566.70" x2="146.97" y2="572.90" stroke="#000" stroke-width="3.0" stroke-linecap="round"/>
<line x1="174.15" y1="566.70" x2="174.15" y2="578.50" stroke="#000" stroke-width="3.0" stroke-linecap="round"/>
<line x1="201.32" y1="566.70" x2="201.32" y2="572.90" stroke="#000" stroke-width="3.0" stroke-linecap="round"/>
<line x1="228.49" y1="566.70" x2="228.49" y2="578.50" stroke="#000" stroke-width="3.0" stroke-linecap="round"/>
<line x1="255.66" y1="566.70" x2="255.66" y2="572.90" stroke="#000" stroke-width="3.0" stroke-linecap="round"/>
<line x1="282.84" y1="566.70" x2="282.84" y2="578.50" stroke="#000" stroke-width="3.0" stroke-linecap="round"/>
<line x1="310.01" y1="566.70" x2="310.01" y2="572.90" stroke="#000" stroke-width="3.0" stroke-linecap="round"/>
<line x1="337.18" y1="566.70" x2="337.18" y2="578.50" stroke="#000" stroke-width="3.0" stroke-linecap="round"/>
<line x1="364.35" y1="566.70" x2="364.35" y2="572.90" stroke="#000" stroke-width="3.0" stroke-linecap="round"/>
<line x1="391.53" y1="566.70" x2="391.53" y2="578.50" stroke="#000" stroke-width="3.0" stroke-linecap="round"/>
<line x1="418.70" y1="566.70" x2="418.70" y2="572.90" stroke="#000" stroke-width="3.0" stroke-linecap="round"/>
<line x1="445.87" y1="566.70" x2="445.87" y2="578.50" stroke="#000" stroke-width="3.0" stroke-linecap="round"/>
<line x1="473.05" y1="566.70" x2="473.05" y2="572.90" stroke="#000" stroke-width="3.0" stroke-linecap="round"/>
<line x1="500.22" y1="566.70" x2="500.22" y2="578.50" stroke="#000" stroke-width="3.0" stroke-linecap="round"/>
<line x1="527.39" y1="566.70" x2="527.39" y2="572.90" stroke="#000" stroke-width="3.0" stroke-linecap="round"/>
<line x1="554.56" y1="566.70" x2="554.56" y2="578.50" stroke="#000" stroke-width="3.0" stroke-linecap="round"/>
<line x1="581.74" y1="566.70" x2="581.74" y2="572.90" stroke="#000" stroke-width="3.0" stroke-linecap="round"/>
<line x1="608.91" y1="566.70" x2="608.91" y2="578.50" stroke="#000" stroke-width="3.0" stroke-linecap="round"/>
<line x1="636.08" y1="566.70" x2="636.08" y2="572.90" stroke="#000" stroke-width="3.0" stroke-linecap="round"/>
<line x1="663.25" y1="566.70" x2="663.25" y2="578.50" stroke="#000" stroke-width="3.0" stroke-linecap="round"/>
<line x1="690.43" y1="566.70" x2="690.43" y2="572.90" stroke="#000" stroke-width="3.0" stroke-linecap="round"/>
<line x1="717.60" y1="566.70" x2="717.60" y2="578.50" stroke="#000" stroke-width="3.0" stroke-linecap="round"/>
<line x1="119.80" y1="966.00" x2="119.80" y2="977.80" stroke="#000" stroke-width="3.0" stroke-linecap="round"/>
<line x1="146.97" y1="966.00" x2="146.97" y2="972.20" stroke="#000" stroke-width="3.0" stroke-linecap="round"/>
<line x1="174.15" y1="966.00" x2="174.15" y2="977.80" stroke="#000" stroke-width="3.0" stroke-linecap="round"/>
<line x1="201.32" y1="966.00" x2="201.32" y2="972.20" stroke="#000" stroke-width="3.0" stroke-linecap="round"/>
<line x1="228.49" y1="966.00" x2="228.49" y2="977.80" stroke="#000" stroke-width="3.0" stroke-linecap="round"/>
<line x1="255.66" y1="966.00" x2="255.66" y2="972.20" stroke="#000" stroke-width="3.0" stroke-linecap="round"/>
<line x1="282.84" y1="966.00" x2="282.84" y2="977.80" stroke="#000" stroke-width="3.0" stroke-linecap="round"/>
<line x1="310.01" y1="966.00" x2="310.01" y2="972.20" stroke="#000" stroke-width="3.0" stroke-linecap="round"/>
<line x1="337.18" y1="966.00" x2="337.18" y2="977.80" stroke="#000" stroke-width="3.0" stroke-linecap="round"/>
<line x1="364.35" y1="966.00" x2="364.35" y2="972.20" stroke="#000" stroke-width="3.0" stroke-linecap="round"/>
<line x1="391.53" y1="966.00" x2="391.53" y2="977.80" stroke="#000" stroke-width="3.0" stroke-linecap="round"/>
<line x1="418.70" y1="966.00" x2="418.70" y2="972.20" stroke="#000" stroke-width="3.0" stroke-linecap="round"/>
<line x1="445.87" y1="966.00" x2="445.87" y2="977.80" stroke="#000" stroke-width="3.0" stroke-linecap="round"/>
<line x1="473.05" y1="966.00" x2="473.05" y2="972.20" stroke="#000" stroke-width="3.0" stroke-linecap="round"/>
<line x1="500.22" y1="966.00" x2="500.22" y2="977.80" stroke="#000" stroke-width="3.0" stroke-linecap="round"/>
<line x1="527.39" y1="966.00" x2="527.39" y2="972.20" stroke="#000" stroke-width="3.0" stroke-linecap="round"/>
<line x1="554.56" y1="966.00" x2="554.56" y2="977.80" stroke="#000" stroke-width="3.0" stroke-linecap="round"/>
<line x1="581.74" y1="966.00" x2="581.74" y2="972.20" stroke="#000" stroke-width="3.0" stroke-linecap="round"/>
<line x1="608.91" y1="966.00" x2="608.91" y2="977.80" stroke="#000" stroke-width="3.0" stroke-linecap="round"/>
<line x1="636.08" y1="966.00" x2="636.08" y2="972.20" stroke="#000" stroke-width="3.0" stroke-linecap="round"/>
<line x1="663.25" y1="966.00" x2="663.25" y2="977.80" stroke="#000" stroke-width="3.0" stroke-linecap="round"/>
<line x1="690.43" y1="966.00" x2="690.43" y2="972.20" stroke="#000" stroke-width="3.0" stroke-linecap="round"/>
<line x1="717.60" y1="966.00" x2="717.60" y2="977.80" stroke="#000" stroke-width="3.0" stroke-linecap="round"/>
<text transform="translate(119.80,39.30) scale(0.965,1.02)" font-size="31.5" text-anchor="middle" fill="#000" >10</text>
<text transform="translate(205.20,39.30) scale(0.965,1.02)" font-size="31.5" text-anchor="middle" fill="#000" >15</text>
<text transform="translate(290.60,39.30) scale(0.965,1.02)" font-size="31.5" text-anchor="middle" fill="#000" >20</text>
<text transform="translate(376.00,39.30) scale(0.965,1.02)" font-size="31.5" text-anchor="middle" fill="#000" >25</text>
<text transform="translate(461.40,39.30) scale(0.965,1.02)" font-size="31.5" text-anchor="middle" fill="#000" >30</text>
<text transform="translate(546.80,39.30) scale(0.965,1.02)" font-size="31.5" text-anchor="middle" fill="#000" >35</text>
<text transform="translate(632.20,39.30) scale(0.965,1.02)" font-size="31.5" text-anchor="middle" fill="#000" >40</text>
<text transform="translate(717.60,39.30) scale(0.965,1.02)" font-size="31.5" text-anchor="middle" fill="#000" >45</text>
<text transform="translate(119.80,501.20) scale(0.965,1.02)" font-size="31.5" text-anchor="middle" fill="#000" >0.0</text>
<text transform="translate(205.20,501.20) scale(0.965,1.02)" font-size="31.5" text-anchor="middle" fill="#000" >0.5</text>
<text transform="translate(290.60,501.20) scale(0.965,1.02)" font-size="31.5" text-anchor="middle" fill="#000" >1.0</text>
<text transform="translate(376.00,501.20) scale(0.965,1.02)" font-size="31.5" text-anchor="middle" fill="#000" >1.5</text>
<text transform="translate(461.40,501.20) scale(0.965,1.02)" font-size="31.5" text-anchor="middle" fill="#000" >2.0</text>
<text transform="translate(546.80,501.20) scale(0.965,1.02)" font-size="31.5" text-anchor="middle" fill="#000" >2.5</text>
<text transform="translate(632.20,501.20) scale(0.965,1.02)" font-size="31.5" text-anchor="middle" fill="#000" >3.0</text>
<text transform="translate(717.60,501.20) scale(0.965,1.02)" font-size="31.5" text-anchor="middle" fill="#000" >3.5</text>
<text transform="translate(119.80,547.60) scale(0.965,1.02)" font-size="31.5" text-anchor="middle" fill="#000" >10</text>
<text transform="translate(174.15,547.60) scale(0.965,1.02)" font-size="31.5" text-anchor="middle" fill="#000" >20</text>
<text transform="translate(228.49,547.60) scale(0.965,1.02)" font-size="31.5" text-anchor="middle" fill="#000" >30</text>
<text transform="translate(282.84,547.60) scale(0.965,1.02)" font-size="31.5" text-anchor="middle" fill="#000" >40</text>
<text transform="translate(337.18,547.60) scale(0.965,1.02)" font-size="31.5" text-anchor="middle" fill="#000" >50</text>
<text transform="translate(391.53,547.60) scale(0.965,1.02)" font-size="31.5" text-anchor="middle" fill="#000" >60</text>
<text transform="translate(445.87,547.60) scale(0.965,1.02)" font-size="31.5" text-anchor="middle" fill="#000" >70</text>
<text transform="translate(500.22,547.60) scale(0.965,1.02)" font-size="31.5" text-anchor="middle" fill="#000" >80</text>
<text transform="translate(554.56,547.60) scale(0.965,1.02)" font-size="31.5" text-anchor="middle" fill="#000" >90</text>
<text transform="translate(608.91,547.60) scale(0.965,1.02)" font-size="31.5" text-anchor="middle" fill="#000" >100</text>
<text transform="translate(663.25,547.60) scale(0.965,1.02)" font-size="31.5" text-anchor="middle" fill="#000" >110</text>
<text transform="translate(717.60,547.60) scale(0.965,1.02)" font-size="31.5" text-anchor="middle" fill="#000" >120</text>
<text transform="translate(119.80,1010.00) scale(0.965,1.02)" font-size="31.5" text-anchor="middle" fill="#000" >0</text>
<text transform="translate(174.15,1010.00) scale(0.965,1.02)" font-size="31.5" text-anchor="middle" fill="#000" >1</text>
<text transform="translate(228.49,1010.00) scale(0.965,1.02)" font-size="31.5" text-anchor="middle" fill="#000" >2</text>
<text transform="translate(282.84,1010.00) scale(0.965,1.02)" font-size="31.5" text-anchor="middle" fill="#000" >3</text>
<text transform="translate(337.18,1010.00) scale(0.965,1.02)" font-size="31.5" text-anchor="middle" fill="#000" >4</text>
<text transform="translate(391.53,1010.00) scale(0.965,1.02)" font-size="31.5" text-anchor="middle" fill="#000" >5</text>
<text transform="translate(445.87,1010.00) scale(0.965,1.02)" font-size="31.5" text-anchor="middle" fill="#000" >6</text>
<text transform="translate(500.22,1010.00) scale(0.965,1.02)" font-size="31.5" text-anchor="middle" fill="#000" >7</text>
<text transform="translate(554.56,1010.00) scale(0.965,1.02)" font-size="31.5" text-anchor="middle" fill="#000" >8</text>
<text transform="translate(608.91,1010.00) scale(0.965,1.02)" font-size="31.5" text-anchor="middle" fill="#000" >9</text>
<text transform="translate(663.25,1010.00) scale(0.965,1.02)" font-size="31.5" text-anchor="middle" fill="#000" >10</text>
<text transform="translate(717.60,1010.00) scale(0.965,1.02)" font-size="31.5" text-anchor="middle" fill="#000" >11</text>
<text transform="translate(100.00,434.73) scale(0.965,1.02)" font-size="31.5" text-anchor="end" fill="#000" >0.0</text>
<text transform="translate(100.00,943.02) scale(0.965,1.02)" font-size="31.5" text-anchor="end" fill="#000" >0.0</text>
<text transform="translate(100.00,368.20) scale(0.965,1.02)" font-size="31.5" text-anchor="end" fill="#000" >0.2</text>
<text transform="translate(100.00,876.47) scale(0.965,1.02)" font-size="31.5" text-anchor="end" fill="#000" >0.2</text>
<text transform="translate(100.00,301.67) scale(0.965,1.02)" font-size="31.5" text-anchor="end" fill="#000" >0.4</text>
<text transform="translate(100.00,809.92) scale(0.965,1.02)" font-size="31.5" text-anchor="end" fill="#000" >0.4</text>
<text transform="translate(100.00,235.13) scale(0.965,1.02)" font-size="31.5" text-anchor="end" fill="#000" >0.6</text>
<text transform="translate(100.00,743.38) scale(0.965,1.02)" font-size="31.5" text-anchor="end" fill="#000" >0.6</text>
<text transform="translate(100.00,168.60) scale(0.965,1.02)" font-size="31.5" text-anchor="end" fill="#000" >0.8</text>
<text transform="translate(100.00,676.83) scale(0.965,1.02)" font-size="31.5" text-anchor="end" fill="#000" >0.8</text>
<text transform="translate(100.00,102.07) scale(0.965,1.02)" font-size="31.5" text-anchor="end" fill="#000" >1.0</text>
<text transform="translate(100.00,610.27) scale(0.965,1.02)" font-size="31.5" text-anchor="end" fill="#000" >1.0</text>
<text transform="translate(425.30,8.00) scale(1,1)" font-size="42.4" text-anchor="middle" fill="#000" >Temperature / K</text>
<text transform="translate(47.3,529) rotate(-90)" font-size="41.7" text-anchor="middle">Molecular coverage / ML</text>
<text x="419.5" y="1073.8" font-size="41.7" text-anchor="middle">Time / 10<tspan dy="-13.5" font-size="41.7">3</tspan><tspan dy="13.5"> year</tspan></text>
<text transform="translate(661.50,102.30) scale(1.035,1)" font-size="40.0" text-anchor="start" fill="#000" >(a)</text>
<text transform="translate(655.00,612.00) scale(1.035,1)" font-size="40.0" text-anchor="start" fill="#000" >(b)</text>
<text x="154.5" y="134.2" font-size="37.0" fill="#0000ff" text-anchor="start">O<tspan dy="10" font-size="36">2</tspan></text>
<text x="444" y="124.3" font-size="37.0" fill="#00dc00" text-anchor="start">CH<tspan dy="10" font-size="36">4</tspan></text>
<text x="225.7" y="642.3" font-size="37.0" fill="#ff0000" text-anchor="start">CO</text>
<text x="340.3" y="632" font-size="37.0" fill="#7f00ff" text-anchor="start">CO<tspan dy="10" font-size="36">2</tspan></text>
</svg>
</body></html>
